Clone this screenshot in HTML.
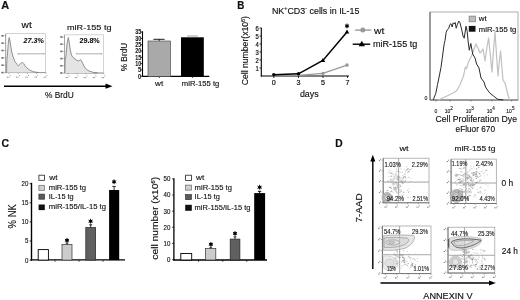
<!DOCTYPE html><html><head><meta charset="utf-8"><style>html,body{margin:0;padding:0;background:#fff;width:520px;height:300px;overflow:hidden}svg{display:block;filter:grayscale(1)}text{font-family:"Liberation Sans",sans-serif;fill:#111}</style></head><body>
<svg width="520" height="300" viewBox="0 0 520 300">
<rect width="520" height="300" fill="#fff"/>
<text x="1.2" y="9.2" font-size="10.5" textLength="7.9" lengthAdjust="spacingAndGlyphs" font-weight="bold" stroke="#111" stroke-width="0.2">A</text>
<text x="21.6" y="28.1" font-size="8.2" textLength="10.1" lengthAdjust="spacingAndGlyphs" stroke="#111" stroke-width="0.14">wt</text>
<text x="67" y="29.5" font-size="8" textLength="44.5" lengthAdjust="spacingAndGlyphs" stroke="#111" stroke-width="0.14">miR-155 tg</text>
<rect x="5.7" y="33.6" width="39.8" height="38.99999999999999" fill="none" stroke="#c8c8c8" stroke-width="0.8"/>
<line x1="5.7" y1="33.6" x2="5.7" y2="72.6" stroke="#9a9a9a" stroke-width="0.8"/>
<line x1="5.7" y1="72.6" x2="45.5" y2="72.6" stroke="#888" stroke-width="0.8"/>
<line x1="4.4" y1="35.800000000000004" x2="5.7" y2="35.800000000000004" stroke="#666" stroke-width="0.6"/>
<rect x="1.4" y="35.0" width="2.2" height="1.6" fill="#6a6a6a"/>
<line x1="4.4" y1="43.160000000000004" x2="5.7" y2="43.160000000000004" stroke="#666" stroke-width="0.6"/>
<rect x="1.4" y="42.4" width="2.2" height="1.6" fill="#6a6a6a"/>
<line x1="4.4" y1="50.519999999999996" x2="5.7" y2="50.519999999999996" stroke="#666" stroke-width="0.6"/>
<rect x="1.4" y="49.7" width="2.2" height="1.6" fill="#6a6a6a"/>
<line x1="4.4" y1="57.879999999999995" x2="5.7" y2="57.879999999999995" stroke="#666" stroke-width="0.6"/>
<rect x="1.4" y="57.1" width="2.2" height="1.6" fill="#6a6a6a"/>
<line x1="4.4" y1="65.24" x2="5.7" y2="65.24" stroke="#666" stroke-width="0.6"/>
<rect x="1.4" y="64.4" width="2.2" height="1.6" fill="#6a6a6a"/>
<line x1="4.4" y1="72.6" x2="5.7" y2="72.6" stroke="#666" stroke-width="0.6"/>
<rect x="1.4" y="71.8" width="2.2" height="1.6" fill="#6a6a6a"/>
<line x1="9.1" y1="72.6" x2="9.1" y2="73.89999999999999" stroke="#777" stroke-width="0.6"/>
<path d="M6.9,77.2 l1.2,0 M8.5,77.2 l0.9,0 M9.7,75.6 l0.8,0" stroke="#8a8a8a" stroke-width="1" fill="none"/>
<line x1="18.299999999999997" y1="72.6" x2="18.299999999999997" y2="73.89999999999999" stroke="#777" stroke-width="0.6"/>
<path d="M16.1,77.2 l1.2,0 M17.7,77.2 l0.9,0 M18.9,75.6 l0.8,0" stroke="#8a8a8a" stroke-width="1" fill="none"/>
<line x1="27.5" y1="72.6" x2="27.5" y2="73.89999999999999" stroke="#777" stroke-width="0.6"/>
<path d="M25.3,77.2 l1.2,0 M26.9,77.2 l0.9,0 M28.1,75.6 l0.8,0" stroke="#8a8a8a" stroke-width="1" fill="none"/>
<line x1="36.699999999999996" y1="72.6" x2="36.699999999999996" y2="73.89999999999999" stroke="#777" stroke-width="0.6"/>
<path d="M34.5,77.2 l1.2,0 M36.1,77.2 l0.9,0 M37.3,75.6 l0.8,0" stroke="#8a8a8a" stroke-width="1" fill="none"/>
<line x1="45.9" y1="72.6" x2="45.9" y2="73.89999999999999" stroke="#777" stroke-width="0.6"/>
<path d="M43.7,77.2 l1.2,0 M45.3,77.2 l0.9,0 M46.5,75.6 l0.8,0" stroke="#8a8a8a" stroke-width="1" fill="none"/>
<path d="M6.6,72.6 L6.6,72.5 6.8,61 7.6,52 8.4,42 9.2,37.5 10.2,42 11.7,51.7 13.2,57 15,61.7 16.8,64 18.3,65.8 20.3,64.2 21.5,62.8 22.5,62.3 23.7,63.5 25,65.8 28.3,69.2 30.5,70.5 33.3,71.7 38.3,72.5 L38.3,72.6 Z" fill="#e4e4e4" stroke="none"/>
<polyline points="6.6,72.5 6.8,61 7.6,52 8.4,42 9.2,37.5 10.2,42 11.7,51.7 13.2,57 15,61.7 16.8,64 18.3,65.8 20.3,64.2 21.5,62.8 22.5,62.3 23.7,63.5 25,65.8 28.3,69.2 30.5,70.5 33.3,71.7 38.3,72.5" fill="none" stroke="#777" stroke-width="0.8" stroke-linejoin="round"/>
<line x1="18" y1="53.8" x2="44.2" y2="53.8" stroke="#999" stroke-width="0.8"/>
<line x1="18" y1="52.8" x2="18" y2="54.8" stroke="#999" stroke-width="0.6"/>
<line x1="44.2" y1="52.8" x2="44.2" y2="54.8" stroke="#999" stroke-width="0.6"/>
<text x="23.6" y="42.7" font-size="7.9" textLength="20.3" lengthAdjust="spacingAndGlyphs" font-weight="bold" font-style="italic" stroke="#111" stroke-width="0.1">27.3%</text>
<rect x="64.6" y="34.8" width="38.80000000000001" height="38.2" fill="none" stroke="#c8c8c8" stroke-width="0.8"/>
<line x1="64.6" y1="34.8" x2="64.6" y2="73" stroke="#9a9a9a" stroke-width="0.8"/>
<line x1="64.6" y1="73" x2="103.4" y2="73" stroke="#888" stroke-width="0.8"/>
<line x1="63.3" y1="37.0" x2="64.6" y2="37.0" stroke="#666" stroke-width="0.6"/>
<rect x="60.3" y="36.2" width="2.2" height="1.6" fill="#6a6a6a"/>
<line x1="63.3" y1="44.2" x2="64.6" y2="44.2" stroke="#666" stroke-width="0.6"/>
<rect x="60.3" y="43.4" width="2.2" height="1.6" fill="#6a6a6a"/>
<line x1="63.3" y1="51.4" x2="64.6" y2="51.4" stroke="#666" stroke-width="0.6"/>
<rect x="60.3" y="50.6" width="2.2" height="1.6" fill="#6a6a6a"/>
<line x1="63.3" y1="58.6" x2="64.6" y2="58.6" stroke="#666" stroke-width="0.6"/>
<rect x="60.3" y="57.8" width="2.2" height="1.6" fill="#6a6a6a"/>
<line x1="63.3" y1="65.8" x2="64.6" y2="65.8" stroke="#666" stroke-width="0.6"/>
<rect x="60.3" y="65.0" width="2.2" height="1.6" fill="#6a6a6a"/>
<line x1="63.3" y1="73.0" x2="64.6" y2="73.0" stroke="#666" stroke-width="0.6"/>
<rect x="60.3" y="72.2" width="2.2" height="1.6" fill="#6a6a6a"/>
<line x1="68.0" y1="73" x2="68.0" y2="74.3" stroke="#777" stroke-width="0.6"/>
<path d="M65.8,77.6 l1.2,0 M67.4,77.6 l0.9,0 M68.6,76.0 l0.8,0" stroke="#8a8a8a" stroke-width="1" fill="none"/>
<line x1="76.95" y1="73" x2="76.95" y2="74.3" stroke="#777" stroke-width="0.6"/>
<path d="M74.8,77.6 l1.2,0 M76.4,77.6 l0.9,0 M77.5,76.0 l0.8,0" stroke="#8a8a8a" stroke-width="1" fill="none"/>
<line x1="85.9" y1="73" x2="85.9" y2="74.3" stroke="#777" stroke-width="0.6"/>
<path d="M83.7,77.6 l1.2,0 M85.3,77.6 l0.9,0 M86.5,76.0 l0.8,0" stroke="#8a8a8a" stroke-width="1" fill="none"/>
<line x1="94.85000000000001" y1="73" x2="94.85000000000001" y2="74.3" stroke="#777" stroke-width="0.6"/>
<path d="M92.7,77.6 l1.2,0 M94.3,77.6 l0.9,0 M95.5,76.0 l0.8,0" stroke="#8a8a8a" stroke-width="1" fill="none"/>
<line x1="103.80000000000001" y1="73" x2="103.80000000000001" y2="74.3" stroke="#777" stroke-width="0.6"/>
<path d="M101.6,77.6 l1.2,0 M103.2,77.6 l0.9,0 M104.4,76.0 l0.8,0" stroke="#8a8a8a" stroke-width="1" fill="none"/>
<path d="M64.8,73 L64.8,73 65.2,60 66,55 67,44 68.3,37.5 69.2,42 70.3,50 71.5,55 73,57.5 75,59 77,60.5 78.8,61 80.3,59.5 81.5,61 82.8,63.5 84.5,67 86.5,69.5 89,71 93,72.3 98,73 L98,73 Z" fill="#e4e4e4" stroke="none"/>
<polyline points="64.8,73 65.2,60 66,55 67,44 68.3,37.5 69.2,42 70.3,50 71.5,55 73,57.5 75,59 77,60.5 78.8,61 80.3,59.5 81.5,61 82.8,63.5 84.5,67 86.5,69.5 89,71 93,72.3 98,73" fill="none" stroke="#777" stroke-width="0.8" stroke-linejoin="round"/>
<line x1="76.7" y1="53.8" x2="101.7" y2="53.8" stroke="#999" stroke-width="0.8"/>
<line x1="76.7" y1="52.8" x2="76.7" y2="54.8" stroke="#999" stroke-width="0.6"/>
<line x1="101.7" y1="52.8" x2="101.7" y2="54.8" stroke="#999" stroke-width="0.6"/>
<text x="79.5" y="42.6" font-size="7.9" textLength="20.2" lengthAdjust="spacingAndGlyphs" font-weight="bold" stroke="#111" stroke-width="0.1">29.8%</text>
<line x1="4" y1="86.2" x2="107" y2="86.2" stroke="#000" stroke-width="1.5"/>
<path d="M112.5,86.2 L105.5,83.6 L105.5,88.8 Z" fill="#000"/>
<text x="45" y="98.1" font-size="9.3" textLength="28.8" lengthAdjust="spacingAndGlyphs" stroke="#111" stroke-width="0.14">% BrdU</text>
<text x="126.7" y="71.3" font-size="9" textLength="28.6" lengthAdjust="spacingAndGlyphs" stroke="#111" stroke-width="0.14" transform="rotate(-90 126.7 71.3)">% BrdU</text>
<line x1="142.5" y1="31.2" x2="142.5" y2="76.9" stroke="#000" stroke-width="1.1"/>
<line x1="142" y1="76.4" x2="209.3" y2="76.4" stroke="#000" stroke-width="1.1"/>
<line x1="140.8" y1="76.2" x2="142.5" y2="76.2" stroke="#000" stroke-width="0.8"/>
<text x="141.2" y="78.5" font-size="6.8" textLength="3.2" lengthAdjust="spacingAndGlyphs" text-anchor="end" font-weight="bold" stroke="#111" stroke-width="0.05">0</text>
<line x1="140.8" y1="69.9" x2="142.5" y2="69.9" stroke="#000" stroke-width="0.8"/>
<text x="141.2" y="72.2" font-size="6.8" textLength="3.2" lengthAdjust="spacingAndGlyphs" text-anchor="end" font-weight="bold" stroke="#111" stroke-width="0.05">5</text>
<line x1="140.8" y1="63.6" x2="142.5" y2="63.6" stroke="#000" stroke-width="0.8"/>
<text x="141.2" y="65.9" font-size="6.8" textLength="6.0" lengthAdjust="spacingAndGlyphs" text-anchor="end" font-weight="bold" stroke="#111" stroke-width="0.05">10</text>
<line x1="140.8" y1="57.300000000000004" x2="142.5" y2="57.300000000000004" stroke="#000" stroke-width="0.8"/>
<text x="141.2" y="59.6" font-size="6.8" textLength="6.0" lengthAdjust="spacingAndGlyphs" text-anchor="end" font-weight="bold" stroke="#111" stroke-width="0.05">15</text>
<line x1="140.8" y1="51.0" x2="142.5" y2="51.0" stroke="#000" stroke-width="0.8"/>
<text x="141.2" y="53.3" font-size="6.8" textLength="6.0" lengthAdjust="spacingAndGlyphs" text-anchor="end" font-weight="bold" stroke="#111" stroke-width="0.05">20</text>
<line x1="140.8" y1="44.7" x2="142.5" y2="44.7" stroke="#000" stroke-width="0.8"/>
<text x="141.2" y="47.0" font-size="6.8" textLength="6.0" lengthAdjust="spacingAndGlyphs" text-anchor="end" font-weight="bold" stroke="#111" stroke-width="0.05">25</text>
<line x1="140.8" y1="38.400000000000006" x2="142.5" y2="38.400000000000006" stroke="#000" stroke-width="0.8"/>
<text x="141.2" y="40.7" font-size="6.8" textLength="6.0" lengthAdjust="spacingAndGlyphs" text-anchor="end" font-weight="bold" stroke="#111" stroke-width="0.05">30</text>
<line x1="140.8" y1="32.1" x2="142.5" y2="32.1" stroke="#000" stroke-width="0.8"/>
<text x="141.2" y="34.4" font-size="6.8" textLength="6.0" lengthAdjust="spacingAndGlyphs" text-anchor="end" font-weight="bold" stroke="#111" stroke-width="0.05">35</text>
<line x1="159.4" y1="76.4" x2="159.4" y2="78" stroke="#000" stroke-width="0.7"/>
<line x1="192.4" y1="76.4" x2="192.4" y2="78" stroke="#000" stroke-width="0.7"/>
<rect x="148" y="41" width="22.6" height="35.4" fill="#a9a9a9" stroke="#555" stroke-width="0.7"/>
<line x1="159.2" y1="41" x2="159.2" y2="39.3" stroke="#000" stroke-width="0.8"/>
<line x1="153.4" y1="39.3" x2="164.6" y2="39.3" stroke="#000" stroke-width="0.9"/>
<rect x="181" y="37.3" width="22.8" height="39.1" fill="#000"/>
<line x1="187" y1="36" x2="198" y2="36" stroke="#999" stroke-width="0.9"/>
<text x="155.1" y="86.1" font-size="7.6" textLength="8.1" lengthAdjust="spacingAndGlyphs" stroke="#111" stroke-width="0.14">wt</text>
<text x="181.8" y="86.3" font-size="7.4" textLength="37.5" lengthAdjust="spacingAndGlyphs" stroke="#111" stroke-width="0.14">miR-155 tg</text>
<text x="237.2" y="9.3" font-size="10.8" textLength="7.1" lengthAdjust="spacingAndGlyphs" font-weight="bold" stroke="#111" stroke-width="0.2">B</text>
<text x="271.9" y="13.5" font-size="9" textLength="87.5" lengthAdjust="spacingAndGlyphs" stroke="#111" stroke-width="0.14">NK<tspan dy="-3.2" font-size="5.5">+</tspan><tspan dy="3.2">CD3</tspan><tspan dy="-3.2" font-size="5.5">-</tspan><tspan dy="3.2"> cells in IL-15</tspan></text>
<line x1="261.3" y1="27.8" x2="261.3" y2="76.5" stroke="#000" stroke-width="1.1"/>
<line x1="260.8" y1="76" x2="349" y2="76" stroke="#000" stroke-width="1.1"/>
<line x1="259.5" y1="68" x2="261.3" y2="68" stroke="#000" stroke-width="0.8"/>
<text x="258.7" y="70.5" font-size="7" textLength="3.3" lengthAdjust="spacingAndGlyphs" text-anchor="end" stroke="#111" stroke-width="0.2">1</text>
<line x1="259.5" y1="60" x2="261.3" y2="60" stroke="#000" stroke-width="0.8"/>
<text x="258.7" y="62.5" font-size="7" textLength="3.3" lengthAdjust="spacingAndGlyphs" text-anchor="end" stroke="#111" stroke-width="0.2">2</text>
<line x1="259.5" y1="52" x2="261.3" y2="52" stroke="#000" stroke-width="0.8"/>
<text x="258.7" y="54.5" font-size="7" textLength="3.3" lengthAdjust="spacingAndGlyphs" text-anchor="end" stroke="#111" stroke-width="0.2">3</text>
<line x1="259.5" y1="44" x2="261.3" y2="44" stroke="#000" stroke-width="0.8"/>
<text x="258.7" y="46.5" font-size="7" textLength="3.3" lengthAdjust="spacingAndGlyphs" text-anchor="end" stroke="#111" stroke-width="0.2">4</text>
<line x1="259.5" y1="36" x2="261.3" y2="36" stroke="#000" stroke-width="0.8"/>
<text x="258.7" y="38.5" font-size="7" textLength="3.3" lengthAdjust="spacingAndGlyphs" text-anchor="end" stroke="#111" stroke-width="0.2">5</text>
<line x1="259.5" y1="28" x2="261.3" y2="28" stroke="#000" stroke-width="0.8"/>
<text x="258.7" y="30.5" font-size="7" textLength="3.3" lengthAdjust="spacingAndGlyphs" text-anchor="end" stroke="#111" stroke-width="0.2">6</text>
<line x1="273.8" y1="76" x2="273.8" y2="78" stroke="#000" stroke-width="0.8"/>
<text x="273.8" y="84.6" font-size="7.2" text-anchor="middle" stroke="#111" stroke-width="0.2">0</text>
<line x1="298.5" y1="76" x2="298.5" y2="78" stroke="#000" stroke-width="0.8"/>
<text x="298.5" y="84.6" font-size="7.2" text-anchor="middle" stroke="#111" stroke-width="0.2">3</text>
<line x1="323" y1="76" x2="323" y2="78" stroke="#000" stroke-width="0.8"/>
<text x="323" y="84.6" font-size="7.2" text-anchor="middle" stroke="#111" stroke-width="0.2">5</text>
<line x1="347.5" y1="76" x2="347.5" y2="78" stroke="#000" stroke-width="0.8"/>
<text x="347.5" y="84.6" font-size="7.2" text-anchor="middle" stroke="#111" stroke-width="0.2">7</text>
<text x="299.9" y="96.6" font-size="8.6" textLength="18.8" lengthAdjust="spacingAndGlyphs" stroke="#111" stroke-width="0.14">days</text>
<text x="248.4" y="85.3" font-size="8.8" textLength="69.3" lengthAdjust="spacingAndGlyphs" stroke="#111" stroke-width="0.14" transform="rotate(-90 248.4 85.3)">Cell number(x10<tspan dy="-3" font-size="5.5">6</tspan><tspan dy="3">)</tspan></text>
<polyline points="273.8,75.5 298.5,75.4 322.9,73.4 347,65.1" fill="none" stroke="#999" stroke-width="1.3"/>
<circle cx="322.9" cy="73.4" r="1.7" fill="#999"/><circle cx="347" cy="65.1" r="1.8" fill="#999"/>
<polyline points="273.8,74.8 298.5,73.8 322.9,60.4 347,32" fill="none" stroke="#000" stroke-width="1.5"/>
<circle cx="273.8" cy="74.6" r="1.7" fill="#000"/><circle cx="298.5" cy="73.8" r="1.7" fill="#000"/>
<path d="M322.9,58 L325.2,62 L320.6,62 Z" fill="#000"/><path d="M347,29.6 L349.3,33.6 L344.7,33.6 Z" fill="#000"/>
<path d="M347,23.9 L347,27.9 M345.25,24.9 L348.75,26.9 M345.25,26.9 L348.75,24.9" stroke="#000" stroke-width="0.9" stroke-linecap="round"/><circle cx="347" cy="25.9" r="1.5" fill="#000"/>
<line x1="355.1" y1="30.1" x2="371.3" y2="30.1" stroke="#999" stroke-width="1.4"/>
<circle cx="362.8" cy="30.1" r="2.5" fill="#999"/>
<text x="374" y="33.5" font-size="8.6" textLength="10.3" lengthAdjust="spacingAndGlyphs" stroke="#111" stroke-width="0.14">wt</text>
<line x1="352.7" y1="44.2" x2="370.2" y2="44.2" stroke="#000" stroke-width="1.4"/>
<path d="M361.8,40.8 L365,46.2 L358.6,46.2 Z" fill="#000"/>
<text x="372.9" y="46.6" font-size="8.8" textLength="44.4" lengthAdjust="spacingAndGlyphs" stroke="#111" stroke-width="0.14">miR-155 tg</text>
<rect x="430" y="12" width="88" height="88" fill="none" stroke="#999" stroke-width="0.8"/>
<line x1="430" y1="12" x2="430" y2="100" stroke="#555" stroke-width="0.9"/>
<line x1="430" y1="100" x2="518" y2="100" stroke="#555" stroke-width="0.9"/>
<line x1="436" y1="100" x2="436" y2="101.6" stroke="#555" stroke-width="0.6"/>
<line x1="450" y1="100" x2="450" y2="101.6" stroke="#555" stroke-width="0.6"/>
<line x1="471" y1="100" x2="471" y2="101.6" stroke="#555" stroke-width="0.6"/>
<line x1="492" y1="100" x2="492" y2="101.6" stroke="#555" stroke-width="0.6"/>
<line x1="511.6" y1="100" x2="511.6" y2="101.6" stroke="#555" stroke-width="0.6"/>
<polyline points="438.4,100 445.3,96.8 450,94.5 454,92.5 456.6,90.7 460,84.7 463.5,76 465.3,67.3 466.5,68.5 468.5,62 472,55 474,49 476,44 478,48 480,53 483,49 485,61 486.8,48 488.6,38 490.3,55 492,72 493.5,50 495,32 496.5,55 498,76 499.3,62 500.6,51 501.8,66 503,80 505,83 507.5,93 509.5,100" fill="none" stroke="#c2c2c2" stroke-width="1.25" stroke-linejoin="round"/>
<polyline points="433.2,100 435.8,93.3 437.5,84.7 439.3,76 441,67.3 442.2,58.7 443.6,48 444.3,43.5 445,40.5 446.2,32.2 447.2,30 448.7,28.5 449.8,24.7 451,23.7 452.2,27 453.2,22.8 454.3,24 455.2,22.5 456.2,28.2 457.3,24.7 458.8,21 460,22.8 461.8,30 463,36 464.2,38.2 466,26.2 467.2,31.5 468.2,42 469.3,50.2 470.8,43.5 472.7,54 475,58 476.6,64 479,68 481,78 484,82 485.5,87 487.5,90 490,93.3 493.3,95.8 497.5,99.2 503.3,100" fill="none" stroke="#2a2a2a" stroke-width="1" stroke-linejoin="round"/>
<rect x="469.1" y="16.1" width="6.3" height="5.7" fill="#bdbdbd" stroke="#777" stroke-width="0.7"/>
<rect x="468.8" y="25.9" width="6.7" height="5.8" fill="#111"/>
<text x="478.8" y="21" font-size="7.6" textLength="7.9" lengthAdjust="spacingAndGlyphs" stroke="#111" stroke-width="0.14">wt</text>
<text x="478.8" y="31.6" font-size="7.6" textLength="37.5" lengthAdjust="spacingAndGlyphs" stroke="#111" stroke-width="0.14">miR-155 tg</text>
<text x="424.4" y="100" font-size="5.2" stroke="#111" stroke-width="0.1">0</text>
<text x="436" y="113" font-size="5" text-anchor="middle" stroke="#111" stroke-width="0.1">0</text>
<text x="448.8" y="113" font-size="5" text-anchor="middle" stroke="#111" stroke-width="0.1">10<tspan dy="-2.6" font-size="4.6">2</tspan></text>
<text x="469.8" y="113" font-size="5" text-anchor="middle" stroke="#111" stroke-width="0.1">10<tspan dy="-2.6" font-size="4.6">3</tspan></text>
<text x="490.8" y="113" font-size="5" text-anchor="middle" stroke="#111" stroke-width="0.1">10<tspan dy="-2.6" font-size="4.6">4</tspan></text>
<text x="510.40000000000003" y="113" font-size="5" text-anchor="middle" stroke="#111" stroke-width="0.1">10<tspan dy="-2.6" font-size="4.6">5</tspan></text>
<text x="435.4" y="122.3" font-size="9" textLength="81.6" lengthAdjust="spacingAndGlyphs" stroke="#111" stroke-width="0.14">Cell Proliferation Dye</text>
<text x="455.6" y="132" font-size="9" textLength="39.4" lengthAdjust="spacingAndGlyphs" stroke="#111" stroke-width="0.14">eFluor 670</text>
<text x="1.6" y="146.8" font-size="10.5" textLength="7.6" lengthAdjust="spacingAndGlyphs" font-weight="bold" stroke="#111" stroke-width="0.2">C</text>
<line x1="31.5" y1="182.8" x2="31.5" y2="260.7" stroke="#000" stroke-width="1.4"/>
<line x1="30.8" y1="259.8" x2="125" y2="259.8" stroke="#000" stroke-width="1.3"/>
<line x1="29.6" y1="260.1" x2="31.5" y2="260.1" stroke="#000" stroke-width="0.8"/>
<text x="28.3" y="262.5" font-size="7.2" textLength="3.4" lengthAdjust="spacingAndGlyphs" text-anchor="end" stroke="#111" stroke-width="0.15">0</text>
<line x1="29.6" y1="241.00000000000003" x2="31.5" y2="241.00000000000003" stroke="#000" stroke-width="0.8"/>
<text x="28.3" y="243.40000000000003" font-size="7.2" textLength="3.4" lengthAdjust="spacingAndGlyphs" text-anchor="end" stroke="#111" stroke-width="0.15">5</text>
<line x1="29.6" y1="221.90000000000003" x2="31.5" y2="221.90000000000003" stroke="#000" stroke-width="0.8"/>
<text x="28.3" y="224.30000000000004" font-size="7.2" textLength="6.8" lengthAdjust="spacingAndGlyphs" text-anchor="end" stroke="#111" stroke-width="0.15">10</text>
<line x1="29.6" y1="202.8" x2="31.5" y2="202.8" stroke="#000" stroke-width="0.8"/>
<text x="28.3" y="205.20000000000002" font-size="7.2" textLength="6.8" lengthAdjust="spacingAndGlyphs" text-anchor="end" stroke="#111" stroke-width="0.15">15</text>
<line x1="29.6" y1="183.70000000000002" x2="31.5" y2="183.70000000000002" stroke="#000" stroke-width="0.8"/>
<text x="28.3" y="186.10000000000002" font-size="7.2" textLength="6.8" lengthAdjust="spacingAndGlyphs" text-anchor="end" stroke="#111" stroke-width="0.15">20</text>
<line x1="55" y1="260.1" x2="55" y2="261.8" stroke="#000" stroke-width="0.7"/>
<line x1="79" y1="260.1" x2="79" y2="261.8" stroke="#000" stroke-width="0.7"/>
<line x1="103" y1="260.1" x2="103" y2="261.8" stroke="#000" stroke-width="0.7"/>
<text x="15.9" y="228.4" font-size="10.5" textLength="24.2" lengthAdjust="spacingAndGlyphs" stroke="#111" stroke-width="0.14" transform="rotate(-90 15.9 228.4)">% NK</text>
<rect x="38.2" y="249.6" width="10.2" height="10.5" fill="#fff" stroke="#000" stroke-width="0.9"/>
<rect x="62" y="244.5" width="10" height="15.6" fill="#cccccc" stroke="#333" stroke-width="0.7"/>
<rect x="85.8" y="227.5" width="9.8" height="32.6" fill="#606060" stroke="#222" stroke-width="0.7"/>
<rect x="109.1" y="190" width="10.1" height="70.1" fill="#000"/>
<line x1="67" y1="244.5" x2="67" y2="243" stroke="#000" stroke-width="0.8"/>
<line x1="65.6" y1="243" x2="68.4" y2="243" stroke="#000" stroke-width="0.8"/>
<line x1="90.7" y1="227.5" x2="90.7" y2="224.8" stroke="#000" stroke-width="0.8"/>
<line x1="89.2" y1="224.8" x2="92.2" y2="224.8" stroke="#000" stroke-width="0.9"/>
<line x1="114.1" y1="190" x2="114.1" y2="186.4" stroke="#000" stroke-width="0.8"/>
<line x1="112.3" y1="186.4" x2="115.9" y2="186.4" stroke="#000" stroke-width="0.8"/>
<path d="M67,238.3 L67,242.3 M65.25,239.3 L68.75,241.3 M65.25,241.3 L68.75,239.3" stroke="#000" stroke-width="0.9" stroke-linecap="round"/><circle cx="67" cy="240.3" r="1.5" fill="#000"/>
<path d="M90.6,219.2 L90.6,223.2 M88.85,220.2 L92.35,222.2 M88.85,222.2 L92.35,220.2" stroke="#000" stroke-width="0.9" stroke-linecap="round"/><circle cx="90.6" cy="221.2" r="1.5" fill="#000"/>
<path d="M114.1,179.8 L114.1,183.8 M112.35,180.8 L115.85,182.8 M112.35,182.8 L115.85,180.8" stroke="#000" stroke-width="0.9" stroke-linecap="round"/><circle cx="114.1" cy="181.8" r="1.5" fill="#000"/>
<rect x="38.9" y="175.2" width="5.6" height="5.1" fill="#fff" stroke="#222" stroke-width="0.8"/>
<rect x="38.9" y="185.3" width="5.6" height="5.0" fill="#d0d0d0" stroke="#666" stroke-width="0.7"/>
<rect x="38.9" y="194.1" width="5.6" height="5.1" fill="#5a5a5a" stroke="#333" stroke-width="0.7"/>
<rect x="38.6" y="204.5" width="6.2" height="5.6" fill="#111"/>
<text x="49.2" y="179.8" font-size="8" textLength="8.3" lengthAdjust="spacingAndGlyphs" stroke="#111" stroke-width="0.14">wt</text>
<text x="48.8" y="189.9" font-size="8" textLength="37.3" lengthAdjust="spacingAndGlyphs" stroke="#111" stroke-width="0.14">miR-155 tg</text>
<text x="48.8" y="198.8" font-size="8" textLength="24.8" lengthAdjust="spacingAndGlyphs" stroke="#111" stroke-width="0.14">IL-15 tg</text>
<text x="48.8" y="209.4" font-size="8" textLength="57.2" lengthAdjust="spacingAndGlyphs" stroke="#111" stroke-width="0.14">miR-155/IL-15 tg</text>
<line x1="173.9" y1="178.3" x2="173.9" y2="260.6" stroke="#000" stroke-width="1.3"/>
<line x1="173.3" y1="260" x2="267" y2="260" stroke="#000" stroke-width="1.3"/>
<line x1="172.2" y1="259.6" x2="173.9" y2="259.6" stroke="#000" stroke-width="0.8"/>
<text x="170.4" y="262.0" font-size="7.2" textLength="3.4" lengthAdjust="spacingAndGlyphs" text-anchor="end" stroke="#111" stroke-width="0.15">0</text>
<line x1="172.2" y1="243.45000000000002" x2="173.9" y2="243.45000000000002" stroke="#000" stroke-width="0.8"/>
<text x="170.4" y="245.85000000000002" font-size="7.2" textLength="6.8" lengthAdjust="spacingAndGlyphs" text-anchor="end" stroke="#111" stroke-width="0.15">10</text>
<line x1="172.2" y1="227.3" x2="173.9" y2="227.3" stroke="#000" stroke-width="0.8"/>
<text x="170.4" y="229.70000000000002" font-size="7.2" textLength="6.8" lengthAdjust="spacingAndGlyphs" text-anchor="end" stroke="#111" stroke-width="0.15">20</text>
<line x1="172.2" y1="211.15000000000003" x2="173.9" y2="211.15000000000003" stroke="#000" stroke-width="0.8"/>
<text x="170.4" y="213.55000000000004" font-size="7.2" textLength="6.8" lengthAdjust="spacingAndGlyphs" text-anchor="end" stroke="#111" stroke-width="0.15">30</text>
<line x1="172.2" y1="195.00000000000003" x2="173.9" y2="195.00000000000003" stroke="#000" stroke-width="0.8"/>
<text x="170.4" y="197.40000000000003" font-size="7.2" textLength="6.8" lengthAdjust="spacingAndGlyphs" text-anchor="end" stroke="#111" stroke-width="0.15">40</text>
<line x1="172.2" y1="178.85000000000002" x2="173.9" y2="178.85000000000002" stroke="#000" stroke-width="0.8"/>
<text x="170.4" y="181.25000000000003" font-size="7.2" textLength="6.8" lengthAdjust="spacingAndGlyphs" text-anchor="end" stroke="#111" stroke-width="0.15">50</text>
<line x1="198.5" y1="260" x2="198.5" y2="261.8" stroke="#000" stroke-width="0.7"/>
<line x1="222.8" y1="260" x2="222.8" y2="261.8" stroke="#000" stroke-width="0.7"/>
<line x1="246.8" y1="260" x2="246.8" y2="261.8" stroke="#000" stroke-width="0.7"/>
<text x="158.2" y="259.7" font-size="9" textLength="83" lengthAdjust="spacingAndGlyphs" stroke="#111" stroke-width="0.14" transform="rotate(-90 158.2 259.7)">cell number (x10<tspan dy="-3" font-size="5.5">6</tspan><tspan dy="3">)</tspan></text>
<rect x="180.8" y="253.5" width="10.9" height="6.5" fill="#fff" stroke="#000" stroke-width="0.9"/>
<rect x="205.6" y="248.5" width="10.2" height="11.5" fill="#cccccc" stroke="#333" stroke-width="0.7"/>
<rect x="230.2" y="239.1" width="9.7" height="20.9" fill="#606060" stroke="#222" stroke-width="0.7"/>
<rect x="254.2" y="193.1" width="10.9" height="66.9" fill="#000"/>
<line x1="210.8" y1="248.5" x2="210.8" y2="247.3" stroke="#000" stroke-width="0.8"/>
<line x1="209.5" y1="247.3" x2="212.1" y2="247.3" stroke="#000" stroke-width="0.8"/>
<line x1="235" y1="239.1" x2="235" y2="236.8" stroke="#000" stroke-width="0.8"/>
<line x1="233.6" y1="236.8" x2="236.4" y2="236.8" stroke="#000" stroke-width="0.9"/>
<line x1="259.6" y1="193.1" x2="259.6" y2="191.3" stroke="#000" stroke-width="0.9"/>
<line x1="257.9" y1="191.3" x2="261.3" y2="191.3" stroke="#000" stroke-width="1"/>
<path d="M210.9,242.3 L210.9,246.3 M209.15,243.3 L212.65,245.3 M209.15,245.3 L212.65,243.3" stroke="#000" stroke-width="0.9" stroke-linecap="round"/><circle cx="210.9" cy="244.3" r="1.5" fill="#000"/>
<path d="M235,231.4 L235,235.4 M233.25,232.4 L236.75,234.4 M233.25,234.4 L236.75,232.4" stroke="#000" stroke-width="0.9" stroke-linecap="round"/><circle cx="235" cy="233.4" r="1.5" fill="#000"/>
<path d="M259.6,185.2 L259.6,189.2 M257.85,186.2 L261.35,188.2 M257.85,188.2 L261.35,186.2" stroke="#000" stroke-width="0.9" stroke-linecap="round"/><circle cx="259.6" cy="187.2" r="1.5" fill="#000"/>
<rect x="185.6" y="175.2" width="5.8" height="5.3" fill="#fff" stroke="#222" stroke-width="0.8"/>
<rect x="185.6" y="185.1" width="5.8" height="5.0" fill="#d0d0d0" stroke="#666" stroke-width="0.7"/>
<rect x="185.6" y="194.6" width="5.8" height="5.0" fill="#5a5a5a" stroke="#333" stroke-width="0.7"/>
<rect x="185.2" y="204.8" width="6.6" height="6.0" fill="#111"/>
<text x="196" y="179.5" font-size="8" textLength="8.2" lengthAdjust="spacingAndGlyphs" stroke="#111" stroke-width="0.14">wt</text>
<text x="194.6" y="190.2" font-size="8.1" textLength="37.3" lengthAdjust="spacingAndGlyphs" stroke="#111" stroke-width="0.14">miR-155 tg</text>
<text x="194.6" y="199" font-size="8.1" textLength="25.3" lengthAdjust="spacingAndGlyphs" stroke="#111" stroke-width="0.14">IL-15 tg</text>
<text x="194.6" y="209.7" font-size="8.1" textLength="55.8" lengthAdjust="spacingAndGlyphs" stroke="#111" stroke-width="0.14">miR-155/IL-15 tg</text>
<text x="335.3" y="146.6" font-size="10.5" textLength="7.4" lengthAdjust="spacingAndGlyphs" font-weight="bold" stroke="#111" stroke-width="0.2">D</text>
<text x="399.5" y="151.1" font-size="7.4" textLength="9.1" lengthAdjust="spacingAndGlyphs" stroke="#111" stroke-width="0.14">wt</text>
<text x="454.5" y="151.1" font-size="7.3" textLength="40.8" lengthAdjust="spacingAndGlyphs" stroke="#111" stroke-width="0.14">miR-155 tg</text>
<line x1="372.8" y1="269" x2="372.8" y2="160" stroke="#000" stroke-width="1.4"/>
<path d="M372.8,154.8 L370.3,161.5 L375.3,161.5 Z" fill="#000"/>
<line x1="380.5" y1="283" x2="490" y2="283" stroke="#000" stroke-width="1.4"/>
<path d="M495.8,283 L489,280.4 L489,285.6 Z" fill="#000"/>
<text x="362.3" y="222.5" font-size="8.8" textLength="29" lengthAdjust="spacingAndGlyphs" stroke="#111" stroke-width="0.14" transform="rotate(-90 362.3 222.5)">7-AAD</text>
<text x="423.3" y="298.8" font-size="8.3" textLength="49.2" lengthAdjust="spacingAndGlyphs" stroke="#111" stroke-width="0.14">ANNEXIN V</text>
<text x="501.5" y="186.3" font-size="8.8" textLength="11.7" lengthAdjust="spacingAndGlyphs" stroke="#111" stroke-width="0.14">0 h</text>
<text x="501.8" y="253.8" font-size="8.8" textLength="16.1" lengthAdjust="spacingAndGlyphs" stroke="#111" stroke-width="0.14">24 h</text>
<rect x="383.2" y="158.2" width="45.80000000000001" height="44.60000000000002" fill="none" stroke="#999" stroke-width="0.7"/>
<line x1="383.2" y1="158.2" x2="383.2" y2="202.8" stroke="#666" stroke-width="0.8"/>
<line x1="383.2" y1="202.8" x2="429" y2="202.8" stroke="#666" stroke-width="0.8"/>
<line x1="398.6" y1="158.2" x2="398.6" y2="202.8" stroke="#aaa" stroke-width="0.7"/>
<line x1="383.2" y1="182.1" x2="429" y2="182.1" stroke="#aaa" stroke-width="0.7"/>
<line x1="381.7" y1="160.2" x2="383.2" y2="160.2" stroke="#777" stroke-width="0.6"/>
<path d="M378.9,160.6 l1.2,0 M380.2,159.3 l0.8,0" stroke="#777" stroke-width="1" fill="none"/>
<line x1="381.7" y1="170.85" x2="383.2" y2="170.85" stroke="#777" stroke-width="0.6"/>
<path d="M378.9,171.2 l1.2,0 M380.2,169.9 l0.8,0" stroke="#777" stroke-width="1" fill="none"/>
<line x1="381.7" y1="181.5" x2="383.2" y2="181.5" stroke="#777" stroke-width="0.6"/>
<path d="M378.9,181.9 l1.2,0 M380.2,180.6 l0.8,0" stroke="#777" stroke-width="1" fill="none"/>
<line x1="381.7" y1="192.15" x2="383.2" y2="192.15" stroke="#777" stroke-width="0.6"/>
<path d="M378.9,192.6 l1.2,0 M380.2,191.2 l0.8,0" stroke="#777" stroke-width="1" fill="none"/>
<line x1="381.7" y1="202.8" x2="383.2" y2="202.8" stroke="#777" stroke-width="0.6"/>
<path d="M378.9,203.2 l1.2,0 M380.2,201.9 l0.8,0" stroke="#777" stroke-width="1" fill="none"/>
<line x1="386.2" y1="202.8" x2="386.2" y2="204.3" stroke="#777" stroke-width="0.6"/>
<path d="M384.4,207.1 l1.0,0 M385.7,207.1 l0.8,0 M386.7,205.8 l0.7,0" stroke="#6e6e6e" stroke-width="1" fill="none"/>
<line x1="396.9" y1="202.8" x2="396.9" y2="204.3" stroke="#777" stroke-width="0.6"/>
<path d="M395.1,207.1 l1.0,0 M396.4,207.1 l0.8,0 M397.4,205.8 l0.7,0" stroke="#6e6e6e" stroke-width="1" fill="none"/>
<line x1="407.6" y1="202.8" x2="407.6" y2="204.3" stroke="#777" stroke-width="0.6"/>
<path d="M405.8,207.1 l1.0,0 M407.1,207.1 l0.8,0 M408.1,205.8 l0.7,0" stroke="#6e6e6e" stroke-width="1" fill="none"/>
<line x1="418.3" y1="202.8" x2="418.3" y2="204.3" stroke="#777" stroke-width="0.6"/>
<path d="M416.5,207.1 l1.0,0 M417.8,207.1 l0.8,0 M418.8,205.8 l0.7,0" stroke="#6e6e6e" stroke-width="1" fill="none"/>
<line x1="429.0" y1="202.8" x2="429.0" y2="204.3" stroke="#777" stroke-width="0.6"/>
<path d="M427.2,207.1 l1.0,0 M428.5,207.1 l0.8,0 M429.5,205.8 l0.7,0" stroke="#6e6e6e" stroke-width="1" fill="none"/>
<rect x="451.1" y="159.1" width="45.19999999999999" height="44.400000000000006" fill="none" stroke="#999" stroke-width="0.7"/>
<line x1="451.1" y1="159.1" x2="451.1" y2="203.5" stroke="#666" stroke-width="0.8"/>
<line x1="451.1" y1="203.5" x2="496.3" y2="203.5" stroke="#666" stroke-width="0.8"/>
<line x1="465.8" y1="159.1" x2="465.8" y2="203.5" stroke="#aaa" stroke-width="0.7"/>
<line x1="451.1" y1="183" x2="496.3" y2="183" stroke="#aaa" stroke-width="0.7"/>
<line x1="449.6" y1="161.1" x2="451.1" y2="161.1" stroke="#777" stroke-width="0.6"/>
<path d="M446.8,161.5 l1.2,0 M448.1,160.2 l0.8,0" stroke="#777" stroke-width="1" fill="none"/>
<line x1="449.6" y1="171.7" x2="451.1" y2="171.7" stroke="#777" stroke-width="0.6"/>
<path d="M446.8,172.1 l1.2,0 M448.1,170.8 l0.8,0" stroke="#777" stroke-width="1" fill="none"/>
<line x1="449.6" y1="182.3" x2="451.1" y2="182.3" stroke="#777" stroke-width="0.6"/>
<path d="M446.8,182.7 l1.2,0 M448.1,181.4 l0.8,0" stroke="#777" stroke-width="1" fill="none"/>
<line x1="449.6" y1="192.9" x2="451.1" y2="192.9" stroke="#777" stroke-width="0.6"/>
<path d="M446.8,193.3 l1.2,0 M448.1,192.0 l0.8,0" stroke="#777" stroke-width="1" fill="none"/>
<line x1="449.6" y1="203.5" x2="451.1" y2="203.5" stroke="#777" stroke-width="0.6"/>
<path d="M446.8,203.9 l1.2,0 M448.1,202.6 l0.8,0" stroke="#777" stroke-width="1" fill="none"/>
<line x1="454.1" y1="203.5" x2="454.1" y2="205.0" stroke="#777" stroke-width="0.6"/>
<path d="M452.3,207.8 l1.0,0 M453.6,207.8 l0.8,0 M454.6,206.5 l0.7,0" stroke="#6e6e6e" stroke-width="1" fill="none"/>
<line x1="464.65000000000003" y1="203.5" x2="464.65000000000003" y2="205.0" stroke="#777" stroke-width="0.6"/>
<path d="M462.9,207.8 l1.0,0 M464.2,207.8 l0.8,0 M465.2,206.5 l0.7,0" stroke="#6e6e6e" stroke-width="1" fill="none"/>
<line x1="475.20000000000005" y1="203.5" x2="475.20000000000005" y2="205.0" stroke="#777" stroke-width="0.6"/>
<path d="M473.4,207.8 l1.0,0 M474.7,207.8 l0.8,0 M475.7,206.5 l0.7,0" stroke="#6e6e6e" stroke-width="1" fill="none"/>
<line x1="485.75" y1="203.5" x2="485.75" y2="205.0" stroke="#777" stroke-width="0.6"/>
<path d="M483.9,207.8 l1.0,0 M485.2,207.8 l0.8,0 M486.2,206.5 l0.7,0" stroke="#6e6e6e" stroke-width="1" fill="none"/>
<line x1="496.3" y1="203.5" x2="496.3" y2="205.0" stroke="#777" stroke-width="0.6"/>
<path d="M494.5,207.8 l1.0,0 M495.8,207.8 l0.8,0 M496.8,206.5 l0.7,0" stroke="#6e6e6e" stroke-width="1" fill="none"/>
<rect x="382.4" y="226" width="48.60000000000002" height="47.60000000000002" fill="none" stroke="#999" stroke-width="0.7"/>
<line x1="382.4" y1="226" x2="382.4" y2="273.6" stroke="#666" stroke-width="0.8"/>
<line x1="382.4" y1="273.6" x2="431" y2="273.6" stroke="#666" stroke-width="0.8"/>
<line x1="399.6" y1="226" x2="399.6" y2="273.6" stroke="#aaa" stroke-width="0.7"/>
<line x1="382.4" y1="254.7" x2="431" y2="254.7" stroke="#aaa" stroke-width="0.7"/>
<line x1="380.9" y1="228.0" x2="382.4" y2="228.0" stroke="#777" stroke-width="0.6"/>
<path d="M378.1,228.4 l1.2,0 M379.4,227.1 l0.8,0" stroke="#777" stroke-width="1" fill="none"/>
<line x1="380.9" y1="239.4" x2="382.4" y2="239.4" stroke="#777" stroke-width="0.6"/>
<path d="M378.1,239.8 l1.2,0 M379.4,238.5 l0.8,0" stroke="#777" stroke-width="1" fill="none"/>
<line x1="380.9" y1="250.8" x2="382.4" y2="250.8" stroke="#777" stroke-width="0.6"/>
<path d="M378.1,251.2 l1.2,0 M379.4,249.9 l0.8,0" stroke="#777" stroke-width="1" fill="none"/>
<line x1="380.9" y1="262.20000000000005" x2="382.4" y2="262.20000000000005" stroke="#777" stroke-width="0.6"/>
<path d="M378.1,262.6 l1.2,0 M379.4,261.3 l0.8,0" stroke="#777" stroke-width="1" fill="none"/>
<line x1="380.9" y1="273.6" x2="382.4" y2="273.6" stroke="#777" stroke-width="0.6"/>
<path d="M378.1,274.0 l1.2,0 M379.4,272.7 l0.8,0" stroke="#777" stroke-width="1" fill="none"/>
<line x1="385.4" y1="273.6" x2="385.4" y2="275.1" stroke="#777" stroke-width="0.6"/>
<path d="M383.6,277.9 l1.0,0 M384.9,277.9 l0.8,0 M385.9,276.6 l0.7,0" stroke="#6e6e6e" stroke-width="1" fill="none"/>
<line x1="396.79999999999995" y1="273.6" x2="396.79999999999995" y2="275.1" stroke="#777" stroke-width="0.6"/>
<path d="M395.0,277.9 l1.0,0 M396.3,277.9 l0.8,0 M397.3,276.6 l0.7,0" stroke="#6e6e6e" stroke-width="1" fill="none"/>
<line x1="408.2" y1="273.6" x2="408.2" y2="275.1" stroke="#777" stroke-width="0.6"/>
<path d="M406.4,277.9 l1.0,0 M407.7,277.9 l0.8,0 M408.7,276.6 l0.7,0" stroke="#6e6e6e" stroke-width="1" fill="none"/>
<line x1="419.6" y1="273.6" x2="419.6" y2="275.1" stroke="#777" stroke-width="0.6"/>
<path d="M417.8,277.9 l1.0,0 M419.1,277.9 l0.8,0 M420.1,276.6 l0.7,0" stroke="#6e6e6e" stroke-width="1" fill="none"/>
<line x1="431.0" y1="273.6" x2="431.0" y2="275.1" stroke="#777" stroke-width="0.6"/>
<path d="M429.2,277.9 l1.0,0 M430.5,277.9 l0.8,0 M431.5,276.6 l0.7,0" stroke="#6e6e6e" stroke-width="1" fill="none"/>
<rect x="448" y="227.2" width="46.80000000000001" height="45.80000000000001" fill="none" stroke="#999" stroke-width="0.7"/>
<line x1="448" y1="227.2" x2="448" y2="273" stroke="#666" stroke-width="0.8"/>
<line x1="448" y1="273" x2="494.8" y2="273" stroke="#666" stroke-width="0.8"/>
<line x1="464.6" y1="227.2" x2="464.6" y2="273" stroke="#aaa" stroke-width="0.7"/>
<line x1="448" y1="255.3" x2="494.8" y2="255.3" stroke="#aaa" stroke-width="0.7"/>
<line x1="446.5" y1="229.2" x2="448" y2="229.2" stroke="#777" stroke-width="0.6"/>
<path d="M443.7,229.6 l1.2,0 M445.0,228.3 l0.8,0" stroke="#777" stroke-width="1" fill="none"/>
<line x1="446.5" y1="240.14999999999998" x2="448" y2="240.14999999999998" stroke="#777" stroke-width="0.6"/>
<path d="M443.7,240.5 l1.2,0 M445.0,239.2 l0.8,0" stroke="#777" stroke-width="1" fill="none"/>
<line x1="446.5" y1="251.1" x2="448" y2="251.1" stroke="#777" stroke-width="0.6"/>
<path d="M443.7,251.5 l1.2,0 M445.0,250.2 l0.8,0" stroke="#777" stroke-width="1" fill="none"/>
<line x1="446.5" y1="262.05" x2="448" y2="262.05" stroke="#777" stroke-width="0.6"/>
<path d="M443.7,262.4 l1.2,0 M445.0,261.2 l0.8,0" stroke="#777" stroke-width="1" fill="none"/>
<line x1="446.5" y1="273.0" x2="448" y2="273.0" stroke="#777" stroke-width="0.6"/>
<path d="M443.7,273.4 l1.2,0 M445.0,272.1 l0.8,0" stroke="#777" stroke-width="1" fill="none"/>
<line x1="451.0" y1="273" x2="451.0" y2="274.5" stroke="#777" stroke-width="0.6"/>
<path d="M449.2,277.3 l1.0,0 M450.5,277.3 l0.8,0 M451.5,276.0 l0.7,0" stroke="#6e6e6e" stroke-width="1" fill="none"/>
<line x1="461.95" y1="273" x2="461.95" y2="274.5" stroke="#777" stroke-width="0.6"/>
<path d="M460.1,277.3 l1.0,0 M461.4,277.3 l0.8,0 M462.4,276.0 l0.7,0" stroke="#6e6e6e" stroke-width="1" fill="none"/>
<line x1="472.9" y1="273" x2="472.9" y2="274.5" stroke="#777" stroke-width="0.6"/>
<path d="M471.1,277.3 l1.0,0 M472.4,277.3 l0.8,0 M473.4,276.0 l0.7,0" stroke="#6e6e6e" stroke-width="1" fill="none"/>
<line x1="483.85" y1="273" x2="483.85" y2="274.5" stroke="#777" stroke-width="0.6"/>
<path d="M482.1,277.3 l1.0,0 M483.4,277.3 l0.8,0 M484.4,276.0 l0.7,0" stroke="#6e6e6e" stroke-width="1" fill="none"/>
<line x1="494.8" y1="273" x2="494.8" y2="274.5" stroke="#777" stroke-width="0.6"/>
<path d="M493.0,277.3 l1.0,0 M494.3,277.3 l0.8,0 M495.3,276.0 l0.7,0" stroke="#6e6e6e" stroke-width="1" fill="none"/>
<ellipse cx="387" cy="197.5" rx="5.00" ry="5.00" fill="#d8d8d8" stroke="#7a7a7a" stroke-width="0.5" transform="rotate(0 387 197.5)"/>
<ellipse cx="387" cy="197.5" rx="3.83" ry="3.83" fill="none" stroke="#7a7a7a" stroke-width="0.5" transform="rotate(0 387 197.5)"/>
<ellipse cx="387" cy="197.5" rx="2.67" ry="2.67" fill="none" stroke="#7a7a7a" stroke-width="0.5" transform="rotate(0 387 197.5)"/>
<ellipse cx="396" cy="177" rx="2.5" ry="1.2" fill="none" stroke="#a0a0a0" stroke-width="0.5"/>
<ellipse cx="400" cy="179" rx="2.5" ry="1.3" fill="none" stroke="#a0a0a0" stroke-width="0.5"/>
<ellipse cx="394" cy="183" rx="2.2" ry="1.1" fill="none" stroke="#a0a0a0" stroke-width="0.5"/>
<ellipse cx="399" cy="186" rx="2" ry="1.2" fill="none" stroke="#a0a0a0" stroke-width="0.5"/>
<ellipse cx="403" cy="182" rx="2" ry="1.2" fill="none" stroke="#a0a0a0" stroke-width="0.5"/>
<ellipse cx="400" cy="191" rx="1.6" ry="1.4" fill="none" stroke="#a0a0a0" stroke-width="0.5"/>
<ellipse cx="395" cy="189" rx="2" ry="1" fill="none" stroke="#a0a0a0" stroke-width="0.5"/>
<ellipse cx="392" cy="180" rx="1.6" ry="1" fill="none" stroke="#a0a0a0" stroke-width="0.5"/>
<path d="M405,172 L408,168 L410,170 L412,168" fill="none" stroke="#999" stroke-width="0.5"/>
<path d="M395.2,173.9 q0.6,-1.3 1.0,0.5" fill="none" stroke="#8c8c8c" stroke-width="0.5"/>
<path d="M399.2,179.5 q-1.8,0.0 -2.8,-0.0" fill="none" stroke="#8c8c8c" stroke-width="0.5"/>
<path d="M389.7,181.3 q-1.7,-1.2 -2.8,0.5" fill="none" stroke="#8c8c8c" stroke-width="0.5"/>
<path d="M397.1,191.5 q-1.5,-0.8 -2.4,0.3" fill="none" stroke="#8c8c8c" stroke-width="0.5"/>
<path d="M400.9,194.6 q0.3,-0.3 0.5,0.1" fill="none" stroke="#8c8c8c" stroke-width="0.5"/>
<path d="M407.5,171.2 q1.4,-0.6 2.3,0.3" fill="none" stroke="#8c8c8c" stroke-width="0.5"/>
<path d="M391.7,173.1 q-0.8,0.9 -1.2,-0.4" fill="none" stroke="#8c8c8c" stroke-width="0.5"/>
<path d="M392.4,185.1 q0.6,-0.4 0.9,0.2" fill="none" stroke="#8c8c8c" stroke-width="0.5"/>
<path d="M399.4,171.6 q-1.8,-0.9 -2.8,0.4" fill="none" stroke="#8c8c8c" stroke-width="0.5"/>
<path d="M401.9,181.1 q-0.7,0.3 -1.2,-0.1" fill="none" stroke="#8c8c8c" stroke-width="0.5"/>
<path d="M397.6,177.8 q1.2,0.6 1.9,-0.2" fill="none" stroke="#8c8c8c" stroke-width="0.5"/>
<path d="M393.6,184.9 q0.1,1.1 0.2,-0.5" fill="none" stroke="#8c8c8c" stroke-width="0.5"/>
<path d="M402.9,177.5 q1.9,-1.1 3.1,0.5" fill="none" stroke="#8c8c8c" stroke-width="0.5"/>
<path d="M396.9,189.7 q-1.4,-0.0 -2.2,0.0" fill="none" stroke="#8c8c8c" stroke-width="0.5"/>
<path d="M389.7,187.4 q1.1,0.2 1.7,-0.1" fill="none" stroke="#8c8c8c" stroke-width="0.5"/>
<path d="M405.6,178.2 q0.8,0.3 1.2,-0.1" fill="none" stroke="#8c8c8c" stroke-width="0.5"/>
<path d="M400.0,181.9 q1.4,1.3 2.2,-0.5" fill="none" stroke="#8c8c8c" stroke-width="0.5"/>
<path d="M398.0,187.3 q-1.8,0.6 -2.8,-0.2" fill="none" stroke="#8c8c8c" stroke-width="0.5"/>
<path d="M401.3,195.8 q1.3,-0.6 2.1,0.3" fill="none" stroke="#8c8c8c" stroke-width="0.5"/>
<path d="M396.3,187.4 q-1.9,-0.1 -3.1,0.0" fill="none" stroke="#8c8c8c" stroke-width="0.5"/>
<path d="M392.2,173.0 q-1.8,0.8 -2.8,-0.3" fill="none" stroke="#8c8c8c" stroke-width="0.5"/>
<path d="M391.5,176.4 q-0.4,1.1 -0.7,-0.4" fill="none" stroke="#8c8c8c" stroke-width="0.5"/>
<path d="M390.5,181.7 q0.2,1.2 0.3,-0.5" fill="none" stroke="#8c8c8c" stroke-width="0.5"/>
<path d="M404.6,192.5 q-0.9,-0.3 -1.4,0.1" fill="none" stroke="#8c8c8c" stroke-width="0.5"/>
<path d="M395.8,193.0 q1.8,-1.0 2.9,0.4" fill="none" stroke="#8c8c8c" stroke-width="0.5"/>
<path d="M392.3,176.0 q-1.1,-0.0 -1.7,0.0" fill="none" stroke="#8c8c8c" stroke-width="0.5"/>
<path d="M400.2,176.8 q-2.0,-0.2 -3.2,0.1" fill="none" stroke="#8c8c8c" stroke-width="0.5"/>
<path d="M396.0,184.7 q1.8,0.6 2.9,-0.2" fill="none" stroke="#8c8c8c" stroke-width="0.5"/>
<circle cx="400.4" cy="186.5" r="0.45" fill="#999"/>
<circle cx="404.2" cy="169.6" r="0.45" fill="#999"/>
<circle cx="409.6" cy="191.4" r="0.45" fill="#999"/>
<circle cx="409.0" cy="191.9" r="0.45" fill="#999"/>
<circle cx="397.4" cy="180.0" r="0.45" fill="#999"/>
<circle cx="390.5" cy="187.0" r="0.45" fill="#999"/>
<circle cx="389.5" cy="170.0" r="0.45" fill="#999"/>
<circle cx="393.0" cy="172.9" r="0.45" fill="#999"/>
<circle cx="396.2" cy="169.6" r="0.45" fill="#999"/>
<circle cx="388.0" cy="172.5" r="0.45" fill="#999"/>
<circle cx="390.4" cy="178.9" r="0.45" fill="#999"/>
<circle cx="388.6" cy="194.2" r="0.45" fill="#999"/>
<circle cx="402.7" cy="172.5" r="0.45" fill="#999"/>
<circle cx="394.1" cy="178.4" r="0.45" fill="#999"/>
<circle cx="396.7" cy="171.7" r="0.45" fill="#999"/>
<circle cx="408.4" cy="197.8" r="0.45" fill="#999"/>
<circle cx="399.2" cy="182.5" r="0.45" fill="#999"/>
<circle cx="390.1" cy="171.1" r="0.45" fill="#999"/>
<circle cx="396.2" cy="175.9" r="0.45" fill="#999"/>
<circle cx="407.9" cy="172.8" r="0.45" fill="#999"/>
<circle cx="388.6" cy="196.5" r="0.45" fill="#999"/>
<circle cx="400.7" cy="172.4" r="0.45" fill="#999"/>
<circle cx="401.0" cy="168.8" r="0.45" fill="#999"/>
<circle cx="400.7" cy="197.4" r="0.45" fill="#999"/>
<circle cx="408.7" cy="188.9" r="0.45" fill="#999"/>
<circle cx="394.3" cy="179.0" r="0.45" fill="#999"/>
<circle cx="392.0" cy="191.2" r="0.45" fill="#999"/>
<circle cx="400.8" cy="191.4" r="0.45" fill="#999"/>
<circle cx="395.9" cy="174.7" r="0.45" fill="#999"/>
<circle cx="407.5" cy="197.5" r="0.45" fill="#999"/>
<circle cx="408.5" cy="192.2" r="0.45" fill="#999"/>
<circle cx="407.6" cy="190.2" r="0.45" fill="#999"/>
<circle cx="393.4" cy="183.5" r="0.45" fill="#999"/>
<circle cx="396.5" cy="168.9" r="0.45" fill="#999"/>
<circle cx="388.7" cy="176.4" r="0.45" fill="#999"/>
<circle cx="394.2" cy="188.8" r="0.45" fill="#999"/>
<circle cx="411.0" cy="181.4" r="0.45" fill="#999"/>
<circle cx="410.5" cy="197.6" r="0.45" fill="#999"/>
<circle cx="410.9" cy="178.9" r="0.45" fill="#999"/>
<circle cx="393.3" cy="174.8" r="0.45" fill="#999"/>
<circle cx="392.7" cy="174.1" r="0.45" fill="#999"/>
<circle cx="403.0" cy="195.0" r="0.45" fill="#999"/>
<circle cx="408.2" cy="182.4" r="0.45" fill="#999"/>
<circle cx="403.7" cy="192.0" r="0.45" fill="#999"/>
<circle cx="390.0" cy="187.8" r="0.45" fill="#999"/>
<ellipse cx="456.5" cy="196" rx="6.50" ry="6.50" fill="#cfcfcf" stroke="#7a7a7a" stroke-width="0.5" transform="rotate(0 456.5 196)"/>
<ellipse cx="456.5" cy="196" rx="4.98" ry="4.98" fill="none" stroke="#7a7a7a" stroke-width="0.5" transform="rotate(0 456.5 196)"/>
<ellipse cx="456.5" cy="196" rx="3.47" ry="3.47" fill="none" stroke="#7a7a7a" stroke-width="0.5" transform="rotate(0 456.5 196)"/>
<ellipse cx="462" cy="180" rx="2.5" ry="1.2" fill="none" stroke="#a0a0a0" stroke-width="0.5"/>
<ellipse cx="466" cy="176" rx="2.5" ry="1.3" fill="none" stroke="#a0a0a0" stroke-width="0.5"/>
<ellipse cx="470" cy="178" rx="2.2" ry="1.2" fill="none" stroke="#a0a0a0" stroke-width="0.5"/>
<ellipse cx="465" cy="185" rx="2.2" ry="1.1" fill="none" stroke="#a0a0a0" stroke-width="0.5"/>
<ellipse cx="472" cy="186" rx="2" ry="1.2" fill="none" stroke="#a0a0a0" stroke-width="0.5"/>
<ellipse cx="460" cy="190" rx="2" ry="1.2" fill="none" stroke="#a0a0a0" stroke-width="0.5"/>
<ellipse cx="475" cy="174" rx="2" ry="1" fill="none" stroke="#a0a0a0" stroke-width="0.5"/>
<ellipse cx="468" cy="192" rx="1.6" ry="1.1" fill="none" stroke="#a0a0a0" stroke-width="0.5"/>
<path d="M479.6,191.5 q1.0,-0.1 1.6,0.0" fill="none" stroke="#888" stroke-width="0.5"/>
<path d="M459.8,191.7 q-0.7,0.9 -1.1,-0.4" fill="none" stroke="#888" stroke-width="0.5"/>
<path d="M481.2,179.9 q-0.4,1.3 -0.6,-0.5" fill="none" stroke="#888" stroke-width="0.5"/>
<path d="M474.6,173.1 q-1.5,-1.0 -2.4,0.4" fill="none" stroke="#888" stroke-width="0.5"/>
<path d="M479.4,192.2 q-1.4,1.0 -2.3,-0.4" fill="none" stroke="#888" stroke-width="0.5"/>
<path d="M481.5,187.7 q-0.6,0.1 -1.0,-0.1" fill="none" stroke="#888" stroke-width="0.5"/>
<path d="M458.5,168.4 q1.9,0.4 3.0,-0.2" fill="none" stroke="#888" stroke-width="0.5"/>
<path d="M469.2,196.0 q-0.3,1.1 -0.4,-0.4" fill="none" stroke="#888" stroke-width="0.5"/>
<path d="M477.3,174.3 q-1.0,-0.6 -1.6,0.2" fill="none" stroke="#888" stroke-width="0.5"/>
<path d="M461.5,185.6 q-1.0,-0.2 -1.5,0.1" fill="none" stroke="#888" stroke-width="0.5"/>
<path d="M458.5,195.3 q-0.6,-0.1 -0.9,0.1" fill="none" stroke="#888" stroke-width="0.5"/>
<path d="M470.8,195.1 q-0.3,1.3 -0.5,-0.5" fill="none" stroke="#888" stroke-width="0.5"/>
<path d="M468.5,184.0 q0.1,-1.4 0.2,0.6" fill="none" stroke="#888" stroke-width="0.5"/>
<path d="M466.9,173.5 q-2.0,0.9 -3.2,-0.4" fill="none" stroke="#888" stroke-width="0.5"/>
<path d="M459.7,182.2 q0.9,0.2 1.4,-0.1" fill="none" stroke="#888" stroke-width="0.5"/>
<path d="M463.8,183.6 q0.2,0.9 0.4,-0.3" fill="none" stroke="#888" stroke-width="0.5"/>
<path d="M457.9,184.8 q-1.0,-0.7 -1.6,0.3" fill="none" stroke="#888" stroke-width="0.5"/>
<path d="M475.9,183.2 q0.2,0.8 0.4,-0.3" fill="none" stroke="#888" stroke-width="0.5"/>
<path d="M479.6,181.3 q0.5,0.0 0.7,-0.0" fill="none" stroke="#888" stroke-width="0.5"/>
<path d="M468.8,188.8 q-0.2,0.1 -0.3,-0.0" fill="none" stroke="#888" stroke-width="0.5"/>
<path d="M467.9,196.2 q0.8,1.1 1.3,-0.5" fill="none" stroke="#888" stroke-width="0.5"/>
<path d="M480.4,175.8 q0.2,1.3 0.4,-0.5" fill="none" stroke="#888" stroke-width="0.5"/>
<path d="M477.7,172.1 q-1.5,-0.2 -2.4,0.1" fill="none" stroke="#888" stroke-width="0.5"/>
<path d="M457.0,175.2 q-1.7,0.5 -2.7,-0.2" fill="none" stroke="#888" stroke-width="0.5"/>
<path d="M476.2,194.9 q-1.4,0.6 -2.2,-0.3" fill="none" stroke="#888" stroke-width="0.5"/>
<path d="M472.8,172.3 q1.5,1.4 2.5,-0.6" fill="none" stroke="#888" stroke-width="0.5"/>
<path d="M460.9,196.6 q-0.4,-0.0 -0.7,0.0" fill="none" stroke="#888" stroke-width="0.5"/>
<path d="M481.7,193.0 q-1.4,-0.2 -2.2,0.1" fill="none" stroke="#888" stroke-width="0.5"/>
<path d="M468.9,178.2 q-1.2,-0.5 -1.9,0.2" fill="none" stroke="#888" stroke-width="0.5"/>
<path d="M474.5,168.6 q0.2,-0.2 0.3,0.1" fill="none" stroke="#888" stroke-width="0.5"/>
<path d="M455.5,177.9 q0.5,0.0 0.8,-0.0" fill="none" stroke="#888" stroke-width="0.5"/>
<path d="M456.7,197.6 q1.2,1.4 1.8,-0.6" fill="none" stroke="#888" stroke-width="0.5"/>
<path d="M457.8,176.0 q-1.8,0.8 -2.9,-0.3" fill="none" stroke="#888" stroke-width="0.5"/>
<path d="M462.3,171.9 q-0.3,1.2 -0.5,-0.5" fill="none" stroke="#888" stroke-width="0.5"/>
<path d="M477.1,175.8 q-1.4,1.3 -2.2,-0.5" fill="none" stroke="#888" stroke-width="0.5"/>
<path d="M470.4,189.0 q-1.6,-1.3 -2.6,0.5" fill="none" stroke="#888" stroke-width="0.5"/>
<path d="M473.6,180.8 q-1.7,1.3 -2.7,-0.5" fill="none" stroke="#888" stroke-width="0.5"/>
<path d="M472.1,192.0 q-1.7,1.1 -2.7,-0.4" fill="none" stroke="#888" stroke-width="0.5"/>
<path d="M456.8,193.9 q-0.2,-0.5 -0.3,0.2" fill="none" stroke="#888" stroke-width="0.5"/>
<path d="M469.9,195.8 q-0.9,-1.1 -1.5,0.4" fill="none" stroke="#888" stroke-width="0.5"/>
<path d="M469.2,175.2 q-1.6,-1.0 -2.5,0.4" fill="none" stroke="#888" stroke-width="0.5"/>
<path d="M456.4,174.1 q-0.8,-0.6 -1.2,0.2" fill="none" stroke="#888" stroke-width="0.5"/>
<path d="M475.5,176.7 q0.0,-1.0 0.0,0.4" fill="none" stroke="#888" stroke-width="0.5"/>
<path d="M464.4,168.5 q-1.0,-1.5 -1.6,0.6" fill="none" stroke="#888" stroke-width="0.5"/>
<path d="M474.8,184.5 q-1.2,-0.1 -2.0,0.0" fill="none" stroke="#888" stroke-width="0.5"/>
<path d="M474.8,174.1 q1.3,-0.2 2.0,0.1" fill="none" stroke="#777" stroke-width="0.5"/>
<path d="M466.9,188.7 q-0.4,0.0 -0.7,-0.0" fill="none" stroke="#777" stroke-width="0.5"/>
<path d="M470.4,191.6 q-0.6,1.0 -1.0,-0.4" fill="none" stroke="#777" stroke-width="0.5"/>
<path d="M470.7,184.7 q-0.4,-0.5 -0.6,0.2" fill="none" stroke="#777" stroke-width="0.5"/>
<path d="M459.0,174.6 q-1.7,0.7 -2.7,-0.3" fill="none" stroke="#777" stroke-width="0.5"/>
<path d="M462.6,175.3 q-1.7,1.0 -2.7,-0.4" fill="none" stroke="#777" stroke-width="0.5"/>
<path d="M473.7,185.4 q-0.9,-0.8 -1.4,0.3" fill="none" stroke="#777" stroke-width="0.5"/>
<path d="M463.3,181.2 q-1.4,-0.2 -2.2,0.1" fill="none" stroke="#777" stroke-width="0.5"/>
<path d="M462.7,191.2 q1.9,0.1 3.0,-0.1" fill="none" stroke="#777" stroke-width="0.5"/>
<path d="M462.4,191.3 q-0.8,-0.4 -1.2,0.2" fill="none" stroke="#777" stroke-width="0.5"/>
<path d="M458.0,179.6 q-0.1,0.0 -0.2,-0.0" fill="none" stroke="#777" stroke-width="0.5"/>
<path d="M461.6,182.1 q-2.0,-0.7 -3.2,0.3" fill="none" stroke="#777" stroke-width="0.5"/>
<path d="M459.6,180.0 q-1.8,-1.4 -2.9,0.6" fill="none" stroke="#777" stroke-width="0.5"/>
<path d="M463.5,176.7 q0.3,0.1 0.5,-0.0" fill="none" stroke="#777" stroke-width="0.5"/>
<path d="M471.5,185.2 q0.9,1.1 1.4,-0.5" fill="none" stroke="#777" stroke-width="0.5"/>
<path d="M465.0,178.5 q1.9,-1.1 3.1,0.4" fill="none" stroke="#777" stroke-width="0.5"/>
<path d="M471.0,184.9 q-1.8,1.0 -2.9,-0.4" fill="none" stroke="#777" stroke-width="0.5"/>
<path d="M474.1,184.5 q0.9,0.9 1.5,-0.4" fill="none" stroke="#777" stroke-width="0.5"/>
<path d="M460.5,182.5 q0.0,1.0 0.0,-0.4" fill="none" stroke="#777" stroke-width="0.5"/>
<path d="M472.5,188.5 q0.3,1.2 0.5,-0.5" fill="none" stroke="#777" stroke-width="0.5"/>
<path d="M470.3,185.9 q-1.1,-1.4 -1.7,0.6" fill="none" stroke="#777" stroke-width="0.5"/>
<path d="M460.4,179.2 q-1.6,1.0 -2.5,-0.4" fill="none" stroke="#777" stroke-width="0.5"/>
<path d="M468.1,184.6 q0.5,0.5 0.8,-0.2" fill="none" stroke="#777" stroke-width="0.5"/>
<path d="M466.8,172.1 q1.2,0.7 1.9,-0.3" fill="none" stroke="#777" stroke-width="0.5"/>
<path d="M467.1,182.7 q0.6,-1.3 1.0,0.5" fill="none" stroke="#777" stroke-width="0.5"/>
<circle cx="479.3" cy="174.6" r="0.45" fill="#999"/>
<circle cx="457.5" cy="175.0" r="0.45" fill="#999"/>
<circle cx="479.1" cy="173.0" r="0.45" fill="#999"/>
<circle cx="479.4" cy="199.2" r="0.45" fill="#999"/>
<circle cx="471.3" cy="179.0" r="0.45" fill="#999"/>
<circle cx="470.8" cy="189.2" r="0.45" fill="#999"/>
<circle cx="480.3" cy="187.0" r="0.45" fill="#999"/>
<circle cx="476.2" cy="168.6" r="0.45" fill="#999"/>
<circle cx="459.9" cy="174.6" r="0.45" fill="#999"/>
<circle cx="479.5" cy="176.4" r="0.45" fill="#999"/>
<circle cx="473.7" cy="166.4" r="0.45" fill="#999"/>
<circle cx="457.0" cy="175.1" r="0.45" fill="#999"/>
<circle cx="477.2" cy="189.5" r="0.45" fill="#999"/>
<circle cx="477.3" cy="175.9" r="0.45" fill="#999"/>
<circle cx="472.0" cy="181.8" r="0.45" fill="#999"/>
<circle cx="470.4" cy="170.0" r="0.45" fill="#999"/>
<circle cx="484.5" cy="172.8" r="0.45" fill="#999"/>
<circle cx="487.3" cy="197.8" r="0.45" fill="#999"/>
<circle cx="455.6" cy="181.6" r="0.45" fill="#999"/>
<circle cx="482.1" cy="198.9" r="0.45" fill="#999"/>
<circle cx="469.8" cy="175.1" r="0.45" fill="#999"/>
<circle cx="461.9" cy="198.1" r="0.45" fill="#999"/>
<circle cx="462.0" cy="185.8" r="0.45" fill="#999"/>
<circle cx="459.7" cy="183.8" r="0.45" fill="#999"/>
<circle cx="486.4" cy="170.5" r="0.45" fill="#999"/>
<circle cx="482.1" cy="183.3" r="0.45" fill="#999"/>
<circle cx="484.3" cy="189.9" r="0.45" fill="#999"/>
<circle cx="462.6" cy="196.5" r="0.45" fill="#999"/>
<circle cx="471.0" cy="166.8" r="0.45" fill="#999"/>
<circle cx="455.1" cy="182.7" r="0.45" fill="#999"/>
<circle cx="469.9" cy="176.3" r="0.45" fill="#999"/>
<circle cx="459.6" cy="177.7" r="0.45" fill="#999"/>
<circle cx="465.4" cy="194.6" r="0.45" fill="#999"/>
<circle cx="455.1" cy="191.5" r="0.45" fill="#999"/>
<circle cx="482.7" cy="170.1" r="0.45" fill="#999"/>
<circle cx="485.6" cy="190.2" r="0.45" fill="#999"/>
<circle cx="484.8" cy="175.9" r="0.45" fill="#999"/>
<circle cx="467.3" cy="179.4" r="0.45" fill="#999"/>
<circle cx="488.0" cy="186.0" r="0.45" fill="#999"/>
<circle cx="466.9" cy="180.6" r="0.45" fill="#999"/>
<circle cx="464.1" cy="167.6" r="0.45" fill="#999"/>
<circle cx="458.4" cy="194.4" r="0.45" fill="#999"/>
<circle cx="464.4" cy="197.8" r="0.45" fill="#999"/>
<circle cx="463.2" cy="175.0" r="0.45" fill="#999"/>
<circle cx="471.9" cy="172.5" r="0.45" fill="#999"/>
<circle cx="467.3" cy="198.5" r="0.45" fill="#999"/>
<circle cx="484.2" cy="193.6" r="0.45" fill="#999"/>
<circle cx="475.8" cy="197.1" r="0.45" fill="#999"/>
<circle cx="486.0" cy="184.7" r="0.45" fill="#999"/>
<circle cx="478.7" cy="167.7" r="0.45" fill="#999"/>
<circle cx="479.2" cy="181.3" r="0.45" fill="#999"/>
<circle cx="479.8" cy="187.9" r="0.45" fill="#999"/>
<circle cx="464.4" cy="167.7" r="0.45" fill="#999"/>
<circle cx="485.6" cy="170.3" r="0.45" fill="#999"/>
<circle cx="470.6" cy="177.7" r="0.45" fill="#999"/>
<circle cx="464.8" cy="191.1" r="0.45" fill="#999"/>
<circle cx="487.2" cy="174.8" r="0.45" fill="#999"/>
<circle cx="476.6" cy="176.2" r="0.45" fill="#999"/>
<circle cx="473.4" cy="179.4" r="0.45" fill="#999"/>
<circle cx="460.5" cy="171.5" r="0.45" fill="#999"/>
<circle cx="461.9" cy="196.8" r="0.45" fill="#999"/>
<circle cx="471.4" cy="173.5" r="0.45" fill="#999"/>
<circle cx="484.9" cy="199.9" r="0.45" fill="#999"/>
<circle cx="469.8" cy="170.7" r="0.45" fill="#999"/>
<circle cx="461.3" cy="169.1" r="0.45" fill="#999"/>
<circle cx="466.3" cy="169.1" r="0.45" fill="#999"/>
<circle cx="462.9" cy="174.8" r="0.45" fill="#999"/>
<circle cx="473.8" cy="196.2" r="0.45" fill="#999"/>
<circle cx="479.7" cy="180.0" r="0.45" fill="#999"/>
<circle cx="468.7" cy="183.8" r="0.45" fill="#999"/>
<circle cx="467.4" cy="177.5" r="0.45" fill="#999"/>
<circle cx="457.0" cy="175.4" r="0.45" fill="#999"/>
<circle cx="486.9" cy="170.3" r="0.45" fill="#999"/>
<circle cx="471.6" cy="187.4" r="0.45" fill="#999"/>
<circle cx="483.5" cy="173.3" r="0.45" fill="#999"/>
<circle cx="463.9" cy="174.4" r="0.45" fill="#999"/>
<circle cx="468.2" cy="181.2" r="0.45" fill="#999"/>
<circle cx="486.5" cy="194.9" r="0.45" fill="#999"/>
<circle cx="483.8" cy="166.7" r="0.45" fill="#999"/>
<circle cx="456.1" cy="190.1" r="0.45" fill="#999"/>
<path d="M383,236 C392,234.5 404,235 410,235.3 C412.5,234.8 414.6,235.3 414.6,237.5 C414,242 410,246.5 404,248.5 C396,250.5 388,250.6 383,250 Z" fill="#e7e7e7" stroke="#999" stroke-width="0.7"/>
<path d="M384,238 C392,237 401,237.3 407.5,238.3 C409.5,239.5 409,242.5 404,245 C398,247.5 390,247.8 384,247.3 Z" fill="#dcdcdc" stroke="#8a8a8a" stroke-width="0.6"/>
<ellipse cx="392.5" cy="242.4" rx="7" ry="2.6" fill="#e2e2e2" stroke="#888" stroke-width="0.55"/>
<ellipse cx="391.5" cy="242.4" rx="3.4" ry="1.2" fill="#d0d0d0" stroke="#8a8a8a" stroke-width="0.5"/>
<path d="M383.5,256 C389,255.5 396,257 398,261 C399,266 395,270 390,270.5 C386,270.5 383.5,269 383.5,267 Z" fill="#ececec" stroke="#bdbdbd" stroke-width="0.5"/>
<ellipse cx="389.5" cy="263" rx="4.5" ry="4" fill="#e2e2e2" stroke="#b5b5b5" stroke-width="0.5"/>
<path d="M403.0,260.5 q1.7,-0.1 2.7,0.0" fill="none" stroke="#8c8c8c" stroke-width="0.5"/>
<path d="M404.2,261.0 q-1.3,0.0 -2.0,-0.0" fill="none" stroke="#8c8c8c" stroke-width="0.5"/>
<path d="M406.6,264.5 q-1.6,-0.6 -2.6,0.2" fill="none" stroke="#8c8c8c" stroke-width="0.5"/>
<path d="M395.8,264.8 q0.8,-1.4 1.2,0.5" fill="none" stroke="#8c8c8c" stroke-width="0.5"/>
<path d="M413.6,267.4 q0.6,0.3 1.0,-0.1" fill="none" stroke="#8c8c8c" stroke-width="0.5"/>
<path d="M397.1,251.3 q0.1,-1.3 0.2,0.5" fill="none" stroke="#8c8c8c" stroke-width="0.5"/>
<path d="M397.8,255.1 q-1.9,-0.1 -3.0,0.0" fill="none" stroke="#8c8c8c" stroke-width="0.5"/>
<path d="M402.8,265.3 q0.1,0.4 0.1,-0.2" fill="none" stroke="#8c8c8c" stroke-width="0.5"/>
<path d="M404.0,262.3 q-0.2,-0.7 -0.3,0.3" fill="none" stroke="#8c8c8c" stroke-width="0.5"/>
<path d="M414.0,267.9 q1.4,0.6 2.2,-0.2" fill="none" stroke="#8c8c8c" stroke-width="0.5"/>
<path d="M400.3,254.9 q-0.8,-1.3 -1.4,0.5" fill="none" stroke="#8c8c8c" stroke-width="0.5"/>
<path d="M409.3,257.8 q1.4,-0.3 2.2,0.1" fill="none" stroke="#8c8c8c" stroke-width="0.5"/>
<path d="M413.2,265.4 q-2.0,-0.9 -3.2,0.3" fill="none" stroke="#8c8c8c" stroke-width="0.5"/>
<path d="M412.2,259.0 q1.9,-0.3 3.1,0.1" fill="none" stroke="#8c8c8c" stroke-width="0.5"/>
<path d="M395.5,261.7 q1.1,-0.7 1.8,0.3" fill="none" stroke="#8c8c8c" stroke-width="0.5"/>
<path d="M395.7,256.7 q1.9,0.8 3.0,-0.3" fill="none" stroke="#8c8c8c" stroke-width="0.5"/>
<path d="M396.4,255.2 q-1.6,-1.3 -2.6,0.5" fill="none" stroke="#8c8c8c" stroke-width="0.5"/>
<path d="M409.9,254.0 q0.2,-0.2 0.4,0.1" fill="none" stroke="#8c8c8c" stroke-width="0.5"/>
<path d="M397.8,263.4 q-1.5,0.4 -2.4,-0.2" fill="none" stroke="#8c8c8c" stroke-width="0.5"/>
<path d="M396.3,258.2 q-1.1,-0.7 -1.8,0.3" fill="none" stroke="#8c8c8c" stroke-width="0.5"/>
<path d="M413.4,264.7 q-0.8,1.2 -1.3,-0.5" fill="none" stroke="#8c8c8c" stroke-width="0.5"/>
<path d="M398.2,257.7 q1.4,0.4 2.3,-0.2" fill="none" stroke="#8c8c8c" stroke-width="0.5"/>
<path d="M396.0,267.8 q-1.1,-0.7 -1.8,0.3" fill="none" stroke="#8c8c8c" stroke-width="0.5"/>
<path d="M409.5,256.6 q-0.8,-1.3 -1.3,0.5" fill="none" stroke="#8c8c8c" stroke-width="0.5"/>
<circle cx="395.3" cy="260.1" r="0.45" fill="#999"/>
<circle cx="399.1" cy="260.4" r="0.45" fill="#999"/>
<circle cx="402.3" cy="257.6" r="0.45" fill="#999"/>
<circle cx="417.0" cy="258.2" r="0.45" fill="#999"/>
<circle cx="407.4" cy="265.5" r="0.45" fill="#999"/>
<circle cx="397.6" cy="251.9" r="0.45" fill="#999"/>
<circle cx="415.7" cy="264.5" r="0.45" fill="#999"/>
<circle cx="399.2" cy="252.6" r="0.45" fill="#999"/>
<circle cx="411.5" cy="266.9" r="0.45" fill="#999"/>
<circle cx="397.9" cy="267.1" r="0.45" fill="#999"/>
<circle cx="415.1" cy="260.5" r="0.45" fill="#999"/>
<circle cx="403.5" cy="251.0" r="0.45" fill="#999"/>
<circle cx="394.0" cy="267.3" r="0.45" fill="#999"/>
<circle cx="399.0" cy="262.4" r="0.45" fill="#999"/>
<circle cx="399.4" cy="264.7" r="0.45" fill="#999"/>
<circle cx="407.9" cy="254.6" r="0.45" fill="#999"/>
<circle cx="397.4" cy="262.7" r="0.45" fill="#999"/>
<circle cx="394.7" cy="253.3" r="0.45" fill="#999"/>
<circle cx="407.0" cy="265.2" r="0.45" fill="#999"/>
<circle cx="408.4" cy="254.3" r="0.45" fill="#999"/>
<circle cx="415.9" cy="252.9" r="0.45" fill="#999"/>
<circle cx="393.4" cy="254.1" r="0.45" fill="#999"/>
<circle cx="404.1" cy="250.1" r="0.45" fill="#999"/>
<circle cx="397.4" cy="256.0" r="0.45" fill="#999"/>
<circle cx="407.3" cy="251.5" r="0.45" fill="#999"/>
<circle cx="402.1" cy="265.9" r="0.45" fill="#999"/>
<circle cx="417.5" cy="261.5" r="0.45" fill="#999"/>
<circle cx="410.3" cy="260.1" r="0.45" fill="#999"/>
<circle cx="396.5" cy="249.7" r="0.45" fill="#999"/>
<circle cx="393.4" cy="266.3" r="0.45" fill="#999"/>
<circle cx="410.5" cy="267.3" r="0.45" fill="#999"/>
<circle cx="393.5" cy="261.1" r="0.45" fill="#999"/>
<circle cx="405.1" cy="262.9" r="0.45" fill="#999"/>
<circle cx="401.0" cy="268.0" r="0.45" fill="#999"/>
<circle cx="394.9" cy="259.4" r="0.45" fill="#999"/>
<circle cx="411.4" cy="266.1" r="0.45" fill="#999"/>
<circle cx="411.4" cy="262.4" r="0.45" fill="#999"/>
<circle cx="412.8" cy="266.4" r="0.45" fill="#999"/>
<circle cx="401.8" cy="262.0" r="0.45" fill="#999"/>
<circle cx="415.5" cy="265.6" r="0.45" fill="#999"/>
<path d="M449,238.5 C456,235.6 470,235.8 481,238.6 C482.5,241 480.5,244.5 476,246.5 C470,249.4 460,250.6 452,250.2 C450,249.8 449,248.5 449,246.5 Z" fill="#e3e3e3" stroke="#a8a8a8" stroke-width="0.6"/>
<path d="M451.3,242 C455,238.8 466,238.3 474,239.3 C477,239.6 479.5,239.8 481.2,240.4 C478,243.2 472,246.6 463,247.9 C457,248.4 453,246.2 451.3,242 Z" fill="#d6d6d6" stroke="#5e5e5e" stroke-width="0.95"/>
<path d="M454,242.2 C458,240.4 466,240.2 474,240.9 C470,243.5 465,245.3 460,245.7 C456.5,245.7 454.5,244.1 454,242.2 Z" fill="#e4e4e4" stroke="#8a8a8a" stroke-width="0.6"/>
<ellipse cx="460" cy="242.9" rx="3.2" ry="1.1" fill="#ededed" stroke="#a0a0a0" stroke-width="0.4"/>
<line x1="448.6" y1="239" x2="448.6" y2="247.5" stroke="#555" stroke-width="1.2"/>
<ellipse cx="455.5" cy="262" rx="6.00" ry="6.20" fill="#e4e4e4" stroke="#999" stroke-width="0.5" transform="rotate(0 455.5 262)"/>
<ellipse cx="455.5" cy="262" rx="4.60" ry="4.75" fill="none" stroke="#999" stroke-width="0.5" transform="rotate(0 455.5 262)"/>
<ellipse cx="455.5" cy="262" rx="3.20" ry="3.31" fill="none" stroke="#999" stroke-width="0.5" transform="rotate(0 455.5 262)"/>
<path d="M471.0,265.6 q1.5,0.2 2.3,-0.1" fill="none" stroke="#999" stroke-width="0.5"/>
<path d="M476.0,257.0 q0.3,0.3 0.5,-0.1" fill="none" stroke="#999" stroke-width="0.5"/>
<path d="M462.9,262.4 q2.0,1.1 3.2,-0.5" fill="none" stroke="#999" stroke-width="0.5"/>
<path d="M478.5,257.2 q0.9,0.2 1.5,-0.1" fill="none" stroke="#999" stroke-width="0.5"/>
<path d="M471.6,266.6 q-1.7,0.8 -2.7,-0.3" fill="none" stroke="#999" stroke-width="0.5"/>
<path d="M461.7,261.6 q-0.1,-0.8 -0.1,0.3" fill="none" stroke="#999" stroke-width="0.5"/>
<path d="M477.8,259.4 q0.5,1.3 0.7,-0.5" fill="none" stroke="#999" stroke-width="0.5"/>
<path d="M467.1,249.2 q-0.8,0.5 -1.3,-0.2" fill="none" stroke="#999" stroke-width="0.5"/>
<path d="M465.9,252.6 q1.6,0.5 2.6,-0.2" fill="none" stroke="#999" stroke-width="0.5"/>
<path d="M471.6,267.7 q-0.7,0.5 -1.1,-0.2" fill="none" stroke="#999" stroke-width="0.5"/>
<path d="M465.8,258.0 q1.2,1.2 2.0,-0.5" fill="none" stroke="#999" stroke-width="0.5"/>
<path d="M482.1,257.1 q0.3,-0.6 0.5,0.2" fill="none" stroke="#999" stroke-width="0.5"/>
<path d="M464.3,259.4 q1.3,1.0 2.2,-0.4" fill="none" stroke="#999" stroke-width="0.5"/>
<path d="M478.1,269.0 q-0.9,-1.0 -1.4,0.4" fill="none" stroke="#999" stroke-width="0.5"/>
<path d="M471.8,254.8 q-1.1,-0.3 -1.8,0.1" fill="none" stroke="#999" stroke-width="0.5"/>
<path d="M476.0,259.4 q-0.7,1.0 -1.2,-0.4" fill="none" stroke="#999" stroke-width="0.5"/>
<path d="M484.6,258.5 q-1.7,-1.4 -2.7,0.6" fill="none" stroke="#999" stroke-width="0.5"/>
<path d="M481.9,249.9 q0.8,0.2 1.3,-0.1" fill="none" stroke="#999" stroke-width="0.5"/>
<path d="M468.4,265.6 q-1.9,-1.1 -3.1,0.4" fill="none" stroke="#999" stroke-width="0.5"/>
<path d="M471.9,249.5 q1.3,-0.8 2.1,0.3" fill="none" stroke="#999" stroke-width="0.5"/>
<path d="M464.4,250.0 q0.5,-0.2 0.8,0.1" fill="none" stroke="#999" stroke-width="0.5"/>
<path d="M476.1,262.8 q1.2,1.4 2.0,-0.6" fill="none" stroke="#999" stroke-width="0.5"/>
<path d="M477.4,253.2 q-0.1,-1.0 -0.2,0.4" fill="none" stroke="#999" stroke-width="0.5"/>
<path d="M461.3,258.9 q0.9,-1.0 1.4,0.4" fill="none" stroke="#999" stroke-width="0.5"/>
<path d="M467.5,256.3 q0.8,0.1 1.3,-0.0" fill="none" stroke="#999" stroke-width="0.5"/>
<path d="M475.7,264.9 q-0.4,0.9 -0.7,-0.4" fill="none" stroke="#999" stroke-width="0.5"/>
<path d="M482.7,250.8 q1.7,0.7 2.8,-0.3" fill="none" stroke="#999" stroke-width="0.5"/>
<path d="M464.1,258.5 q0.5,1.2 0.8,-0.5" fill="none" stroke="#999" stroke-width="0.5"/>
<circle cx="469.8" cy="260.9" r="0.45" fill="#aaa"/>
<circle cx="482.9" cy="265.7" r="0.45" fill="#aaa"/>
<circle cx="484.6" cy="258.7" r="0.45" fill="#aaa"/>
<circle cx="476.9" cy="253.3" r="0.45" fill="#aaa"/>
<circle cx="478.8" cy="266.2" r="0.45" fill="#aaa"/>
<circle cx="476.7" cy="264.1" r="0.45" fill="#aaa"/>
<circle cx="465.5" cy="267.9" r="0.45" fill="#aaa"/>
<circle cx="485.5" cy="269.5" r="0.45" fill="#aaa"/>
<circle cx="474.0" cy="265.6" r="0.45" fill="#aaa"/>
<circle cx="468.3" cy="268.1" r="0.45" fill="#aaa"/>
<circle cx="482.3" cy="256.3" r="0.45" fill="#aaa"/>
<circle cx="462.2" cy="258.3" r="0.45" fill="#aaa"/>
<circle cx="474.3" cy="265.1" r="0.45" fill="#aaa"/>
<circle cx="472.7" cy="249.6" r="0.45" fill="#aaa"/>
<circle cx="481.0" cy="250.3" r="0.45" fill="#aaa"/>
<circle cx="480.8" cy="252.6" r="0.45" fill="#aaa"/>
<circle cx="468.7" cy="265.5" r="0.45" fill="#aaa"/>
<circle cx="463.7" cy="252.1" r="0.45" fill="#aaa"/>
<circle cx="473.4" cy="264.2" r="0.45" fill="#aaa"/>
<circle cx="481.8" cy="263.5" r="0.45" fill="#aaa"/>
<circle cx="484.6" cy="259.3" r="0.45" fill="#aaa"/>
<circle cx="484.7" cy="250.8" r="0.45" fill="#aaa"/>
<circle cx="465.8" cy="260.1" r="0.45" fill="#aaa"/>
<circle cx="467.5" cy="264.3" r="0.45" fill="#aaa"/>
<circle cx="476.6" cy="260.0" r="0.45" fill="#aaa"/>
<circle cx="481.9" cy="260.8" r="0.45" fill="#aaa"/>
<circle cx="468.1" cy="257.0" r="0.45" fill="#aaa"/>
<circle cx="482.0" cy="267.9" r="0.45" fill="#aaa"/>
<circle cx="465.4" cy="266.9" r="0.45" fill="#aaa"/>
<circle cx="485.2" cy="260.0" r="0.45" fill="#aaa"/>
<circle cx="474.9" cy="253.2" r="0.45" fill="#aaa"/>
<circle cx="473.9" cy="259.6" r="0.45" fill="#aaa"/>
<circle cx="475.7" cy="249.6" r="0.45" fill="#aaa"/>
<circle cx="485.2" cy="259.8" r="0.45" fill="#aaa"/>
<circle cx="470.4" cy="265.8" r="0.45" fill="#aaa"/>
<circle cx="474.6" cy="259.3" r="0.45" fill="#aaa"/>
<circle cx="478.0" cy="250.4" r="0.45" fill="#aaa"/>
<circle cx="474.0" cy="257.7" r="0.45" fill="#aaa"/>
<circle cx="484.9" cy="268.4" r="0.45" fill="#aaa"/>
<circle cx="467.0" cy="258.9" r="0.45" fill="#aaa"/>
<circle cx="463.3" cy="258.1" r="0.45" fill="#aaa"/>
<circle cx="481.2" cy="267.9" r="0.45" fill="#aaa"/>
<circle cx="472.4" cy="255.7" r="0.45" fill="#aaa"/>
<circle cx="465.0" cy="262.0" r="0.45" fill="#aaa"/>
<circle cx="484.1" cy="251.7" r="0.45" fill="#aaa"/>
<circle cx="480.3" cy="249.5" r="0.45" fill="#aaa"/>
<circle cx="465.0" cy="253.8" r="0.45" fill="#aaa"/>
<circle cx="477.9" cy="255.8" r="0.45" fill="#aaa"/>
<circle cx="469.2" cy="262.0" r="0.45" fill="#aaa"/>
<circle cx="462.7" cy="264.3" r="0.45" fill="#aaa"/>
<circle cx="463.2" cy="259.7" r="0.45" fill="#aaa"/>
<circle cx="466.5" cy="253.2" r="0.45" fill="#aaa"/>
<circle cx="473.8" cy="258.2" r="0.45" fill="#aaa"/>
<circle cx="469.8" cy="257.7" r="0.45" fill="#aaa"/>
<circle cx="473.8" cy="252.4" r="0.45" fill="#aaa"/>
<circle cx="465.3" cy="262.3" r="0.45" fill="#aaa"/>
<circle cx="476.6" cy="260.1" r="0.45" fill="#aaa"/>
<circle cx="482.1" cy="261.8" r="0.45" fill="#aaa"/>
<circle cx="482.3" cy="253.9" r="0.45" fill="#aaa"/>
<circle cx="479.3" cy="266.0" r="0.45" fill="#aaa"/>
<ellipse cx="468" cy="252" rx="2" ry="1.1" fill="none" stroke="#a0a0a0" stroke-width="0.5"/>
<ellipse cx="472" cy="258" rx="1.8" ry="1" fill="none" stroke="#a0a0a0" stroke-width="0.5"/>
<ellipse cx="466" cy="262" rx="1.6" ry="1" fill="none" stroke="#a0a0a0" stroke-width="0.5"/>
<circle cx="465.8" cy="252.2" r="0.5" fill="#7a7a7a"/>
<path d="M467.9,251.8 l0.9,0.0" stroke="#7a7a7a" stroke-width="0.5"/>
<circle cx="471.1" cy="259.1" r="0.5" fill="#7a7a7a"/>
<circle cx="472.4" cy="260.7" r="0.5" fill="#7a7a7a"/>
<circle cx="476.2" cy="264.4" r="0.5" fill="#7a7a7a"/>
<path d="M478.8,269.1 l1.1,0.2" stroke="#7a7a7a" stroke-width="0.5"/>
<circle cx="463.5" cy="249.7" r="0.5" fill="#7a7a7a"/>
<circle cx="477.5" cy="268.7" r="0.5" fill="#7a7a7a"/>
<path d="M464.5,253.1 l-0.1,0.1" stroke="#7a7a7a" stroke-width="0.5"/>
<circle cx="468.9" cy="255.4" r="0.5" fill="#7a7a7a"/>
<circle cx="462.3" cy="256.4" r="0.5" fill="#7a7a7a"/>
<circle cx="475.3" cy="264.8" r="0.5" fill="#7a7a7a"/>
<path d="M477.4,269.5 l0.2,0.5" stroke="#7a7a7a" stroke-width="0.5"/>
<circle cx="465.8" cy="250.6" r="0.5" fill="#7a7a7a"/>
<path d="M475.8,266.0 l-0.3,-0.3" stroke="#7a7a7a" stroke-width="0.5"/>
<circle cx="466.8" cy="261.5" r="0.5" fill="#7a7a7a"/>
<circle cx="480.2" cy="267.6" r="0.5" fill="#7a7a7a"/>
<path d="M474.7,263.2 l-0.0,-0.0" stroke="#7a7a7a" stroke-width="0.5"/>
<path d="M471.9,259.9 l0.2,0.2" stroke="#7a7a7a" stroke-width="0.5"/>
<circle cx="466.4" cy="252.1" r="0.5" fill="#7a7a7a"/>
<path d="M467.0,257.6 l-0.6,-0.8" stroke="#7a7a7a" stroke-width="0.5"/>
<path d="M463.8,250.5 l0.8,-0.3" stroke="#7a7a7a" stroke-width="0.5"/>
<path d="M475.8,260.8 l-0.3,1.0" stroke="#7a7a7a" stroke-width="0.5"/>
<path d="M482.3,264.3 l1.1,-0.0" stroke="#7a7a7a" stroke-width="0.5"/>
<circle cx="468.7" cy="256.8" r="0.5" fill="#7a7a7a"/>
<path d="M460.1,254.4 l0.8,-0.0" stroke="#7a7a7a" stroke-width="0.5"/>
<circle cx="475.9" cy="266.2" r="0.5" fill="#7a7a7a"/>
<circle cx="469.2" cy="257.9" r="0.5" fill="#7a7a7a"/>
<path d="M465.0,249.5 l0.7,-0.0" stroke="#7a7a7a" stroke-width="0.5"/>
<path d="M463.7,257.4 l0.1,0.5" stroke="#7a7a7a" stroke-width="0.5"/>
<path d="M461.8,251.2 l1.1,0.2" stroke="#7a7a7a" stroke-width="0.5"/>
<path d="M466.8,260.6 l1.0,-0.4" stroke="#7a7a7a" stroke-width="0.5"/>
<circle cx="472.1" cy="259.2" r="0.5" fill="#7a7a7a"/>
<path d="M471.7,265.0 l-1.4,0.2" stroke="#7a7a7a" stroke-width="0.5"/>
<circle cx="472.4" cy="262.8" r="0.5" fill="#7a7a7a"/>
<path d="M471.0,255.6 l1.2,-0.7" stroke="#7a7a7a" stroke-width="0.5"/>
<circle cx="463.4" cy="252.0" r="0.5" fill="#7a7a7a"/>
<path d="M464.3,252.7 l0.5,-0.7" stroke="#7a7a7a" stroke-width="0.5"/>
<circle cx="472.5" cy="258.9" r="0.5" fill="#7a7a7a"/>
<circle cx="463.4" cy="254.6" r="0.5" fill="#7a7a7a"/>
<circle cx="469.3" cy="256.3" r="0.5" fill="#7a7a7a"/>
<path d="M476.7,260.9 l0.8,0.6" stroke="#7a7a7a" stroke-width="0.5"/>
<path d="M462.7,249.6 l-1.0,0.4" stroke="#7a7a7a" stroke-width="0.5"/>
<path d="M466.4,254.7 l-0.6,-0.9" stroke="#7a7a7a" stroke-width="0.5"/>
<circle cx="470.2" cy="255.8" r="0.5" fill="#7a7a7a"/>
<path d="M401.7,261.4 l1.3,-0.8" stroke="#7e7e7e" stroke-width="0.5"/>
<path d="M408.3,257.7 l-0.6,0.4" stroke="#7e7e7e" stroke-width="0.5"/>
<path d="M405.0,258.8 l-1.3,0.6" stroke="#7e7e7e" stroke-width="0.5"/>
<path d="M412.4,264.9 l-1.2,-0.8" stroke="#7e7e7e" stroke-width="0.5"/>
<path d="M397.1,253.1 l0.8,-0.1" stroke="#7e7e7e" stroke-width="0.5"/>
<circle cx="404.3" cy="262.3" r="0.5" fill="#7e7e7e"/>
<circle cx="404.5" cy="259.0" r="0.5" fill="#7e7e7e"/>
<circle cx="403.0" cy="257.1" r="0.5" fill="#7e7e7e"/>
<path d="M400.3,255.1 l1.0,0.4" stroke="#7e7e7e" stroke-width="0.5"/>
<circle cx="403.7" cy="258.0" r="0.5" fill="#7e7e7e"/>
<path d="M405.1,261.9 l-1.2,-0.0" stroke="#7e7e7e" stroke-width="0.5"/>
<path d="M405.0,257.8 l0.4,0.5" stroke="#7e7e7e" stroke-width="0.5"/>
<path d="M409.9,258.1 l0.6,0.4" stroke="#7e7e7e" stroke-width="0.5"/>
<path d="M399.5,255.9 l1.0,0.9" stroke="#7e7e7e" stroke-width="0.5"/>
<circle cx="412.5" cy="265.1" r="0.5" fill="#7e7e7e"/>
<circle cx="402.2" cy="255.2" r="0.5" fill="#7e7e7e"/>
<circle cx="404.0" cy="260.6" r="0.5" fill="#7e7e7e"/>
<circle cx="399.4" cy="257.7" r="0.5" fill="#7e7e7e"/>
<path d="M399.4,251.8 l0.6,-0.6" stroke="#7e7e7e" stroke-width="0.5"/>
<circle cx="403.4" cy="254.7" r="0.5" fill="#7e7e7e"/>
<circle cx="412.9" cy="263.6" r="0.5" fill="#7e7e7e"/>
<path d="M400.4,255.3 l-0.9,0.2" stroke="#7e7e7e" stroke-width="0.5"/>
<circle cx="401.8" cy="254.5" r="0.5" fill="#7e7e7e"/>
<path d="M412.6,263.6 l-0.7,-0.7" stroke="#7e7e7e" stroke-width="0.5"/>
<circle cx="402.5" cy="257.1" r="0.5" fill="#7e7e7e"/>
<path d="M399.5,254.2 l1.3,0.4" stroke="#7e7e7e" stroke-width="0.5"/>
<path d="M397.4,251.2 l-1.4,0.2" stroke="#7e7e7e" stroke-width="0.5"/>
<path d="M407.5,261.5 l-1.2,-0.4" stroke="#7e7e7e" stroke-width="0.5"/>
<path d="M403.6,258.0 l-0.4,-0.7" stroke="#7e7e7e" stroke-width="0.5"/>
<circle cx="408.1" cy="263.6" r="0.5" fill="#7e7e7e"/>
<circle cx="391.2" cy="188.2" r="0.5" fill="#858585"/>
<path d="M401.7,181.7 l1.3,0.8" stroke="#858585" stroke-width="0.5"/>
<path d="M394.5,197.9 l-1.3,0.8" stroke="#858585" stroke-width="0.5"/>
<circle cx="405.0" cy="176.4" r="0.5" fill="#858585"/>
<path d="M404.8,173.4 l0.4,-0.1" stroke="#858585" stroke-width="0.5"/>
<circle cx="405.0" cy="174.2" r="0.5" fill="#858585"/>
<path d="M397.5,188.8 l1.2,-0.9" stroke="#858585" stroke-width="0.5"/>
<circle cx="387.8" cy="190.5" r="0.5" fill="#858585"/>
<circle cx="395.1" cy="188.0" r="0.5" fill="#858585"/>
<path d="M387.2,191.2 l-1.0,-0.8" stroke="#858585" stroke-width="0.5"/>
<path d="M408.7,171.8 l-0.3,0.4" stroke="#858585" stroke-width="0.5"/>
<path d="M403.6,176.1 l-0.9,-0.9" stroke="#858585" stroke-width="0.5"/>
<path d="M396.9,186.1 l0.4,-0.7" stroke="#858585" stroke-width="0.5"/>
<path d="M402.8,176.1 l0.9,0.8" stroke="#858585" stroke-width="0.5"/>
<circle cx="403.6" cy="178.1" r="0.5" fill="#858585"/>
<path d="M407.9,177.5 l1.4,-0.2" stroke="#858585" stroke-width="0.5"/>
<path d="M407.2,170.1 l0.9,-1.0" stroke="#858585" stroke-width="0.5"/>
<path d="M394.6,184.3 l0.4,-0.7" stroke="#858585" stroke-width="0.5"/>
<path d="M406.5,170.1 l1.1,-0.6" stroke="#858585" stroke-width="0.5"/>
<path d="M406.1,167.0 l1.1,-0.3" stroke="#858585" stroke-width="0.5"/>
<circle cx="390.3" cy="191.8" r="0.5" fill="#858585"/>
<circle cx="389.4" cy="187.2" r="0.5" fill="#858585"/>
<circle cx="391.6" cy="190.9" r="0.5" fill="#858585"/>
<path d="M398.0,184.0 l-0.9,-0.8" stroke="#858585" stroke-width="0.5"/>
<path d="M408.3,171.6 l1.2,0.0" stroke="#858585" stroke-width="0.5"/>
<path d="M392.6,192.1 l0.8,0.5" stroke="#858585" stroke-width="0.5"/>
<circle cx="405.5" cy="180.7" r="0.5" fill="#858585"/>
<circle cx="396.6" cy="182.7" r="0.5" fill="#858585"/>
<circle cx="402.6" cy="183.1" r="0.5" fill="#858585"/>
<path d="M392.1,195.2 l0.7,0.5" stroke="#858585" stroke-width="0.5"/>
<circle cx="478.8" cy="167.3" r="0.5" fill="#7a7a7a"/>
<path d="M470.6,189.9 l0.2,1.0" stroke="#7a7a7a" stroke-width="0.5"/>
<circle cx="462.0" cy="191.8" r="0.5" fill="#7a7a7a"/>
<circle cx="476.5" cy="178.2" r="0.5" fill="#7a7a7a"/>
<path d="M463.5,184.5 l-0.0,-0.1" stroke="#7a7a7a" stroke-width="0.5"/>
<path d="M464.3,184.3 l1.1,0.5" stroke="#7a7a7a" stroke-width="0.5"/>
<circle cx="463.9" cy="184.6" r="0.5" fill="#7a7a7a"/>
<circle cx="478.1" cy="177.3" r="0.5" fill="#7a7a7a"/>
<path d="M472.5,168.9 l-1.3,-0.4" stroke="#7a7a7a" stroke-width="0.5"/>
<circle cx="475.8" cy="182.6" r="0.5" fill="#7a7a7a"/>
<circle cx="477.9" cy="182.1" r="0.5" fill="#7a7a7a"/>
<path d="M463.3,191.9 l-0.8,0.4" stroke="#7a7a7a" stroke-width="0.5"/>
<path d="M468.3,190.6 l-0.4,-0.6" stroke="#7a7a7a" stroke-width="0.5"/>
<circle cx="464.2" cy="196.6" r="0.5" fill="#7a7a7a"/>
<path d="M461.5,195.0 l0.5,-1.0" stroke="#7a7a7a" stroke-width="0.5"/>
<path d="M472.8,175.3 l1.4,-0.3" stroke="#7a7a7a" stroke-width="0.5"/>
<path d="M471.3,178.4 l-0.4,-0.3" stroke="#7a7a7a" stroke-width="0.5"/>
<path d="M474.0,174.9 l-0.8,0.6" stroke="#7a7a7a" stroke-width="0.5"/>
<path d="M455.4,194.5 l-0.1,-0.6" stroke="#7a7a7a" stroke-width="0.5"/>
<circle cx="470.7" cy="180.3" r="0.5" fill="#7a7a7a"/>
<path d="M460.6,192.0 l-0.5,-0.3" stroke="#7a7a7a" stroke-width="0.5"/>
<circle cx="464.0" cy="192.6" r="0.5" fill="#7a7a7a"/>
<path d="M473.1,180.6 l-0.8,-0.8" stroke="#7a7a7a" stroke-width="0.5"/>
<path d="M472.3,184.4 l-0.9,0.4" stroke="#7a7a7a" stroke-width="0.5"/>
<circle cx="472.2" cy="184.1" r="0.5" fill="#7a7a7a"/>
<circle cx="462.1" cy="189.6" r="0.5" fill="#7a7a7a"/>
<path d="M470.7,180.8 l0.1,0.3" stroke="#7a7a7a" stroke-width="0.5"/>
<path d="M456.5,196.1 l-0.4,0.6" stroke="#7a7a7a" stroke-width="0.5"/>
<circle cx="460.0" cy="198.0" r="0.5" fill="#7a7a7a"/>
<circle cx="479.7" cy="173.3" r="0.5" fill="#7a7a7a"/>
<circle cx="476.8" cy="168.9" r="0.5" fill="#7a7a7a"/>
<path d="M481.8,171.6 l-1.0,-0.3" stroke="#7a7a7a" stroke-width="0.5"/>
<path d="M469.6,175.3 l-0.3,0.6" stroke="#7a7a7a" stroke-width="0.5"/>
<circle cx="458.1" cy="195.3" r="0.5" fill="#7a7a7a"/>
<path d="M477.9,176.6 l-1.1,-0.4" stroke="#7a7a7a" stroke-width="0.5"/>
<circle cx="458.3" cy="192.6" r="0.5" fill="#7a7a7a"/>
<path d="M464.0,184.7 l-0.2,0.4" stroke="#7a7a7a" stroke-width="0.5"/>
<circle cx="469.5" cy="177.1" r="0.5" fill="#7a7a7a"/>
<circle cx="462.5" cy="192.1" r="0.5" fill="#7a7a7a"/>
<path d="M463.8,188.0 l-0.2,-0.6" stroke="#7a7a7a" stroke-width="0.5"/>
<circle cx="459.2" cy="197.5" r="0.5" fill="#7a7a7a"/>
<circle cx="476.7" cy="171.7" r="0.5" fill="#7a7a7a"/>
<circle cx="476.5" cy="182.4" r="0.5" fill="#7a7a7a"/>
<circle cx="473.0" cy="174.8" r="0.5" fill="#7a7a7a"/>
<path d="M471.4,180.5 l0.6,-0.0" stroke="#7a7a7a" stroke-width="0.5"/>
<line x1="398.6" y1="158.2" x2="398.6" y2="202.8" stroke="#999" stroke-width="0.6" stroke-opacity="0.75"/>
<line x1="383.2" y1="182.1" x2="429" y2="182.1" stroke="#999" stroke-width="0.6" stroke-opacity="0.75"/>
<line x1="465.8" y1="159.1" x2="465.8" y2="203.5" stroke="#999" stroke-width="0.6" stroke-opacity="0.75"/>
<line x1="451.1" y1="183" x2="496.3" y2="183" stroke="#999" stroke-width="0.6" stroke-opacity="0.75"/>
<line x1="399.6" y1="226" x2="399.6" y2="273.6" stroke="#999" stroke-width="0.6" stroke-opacity="0.75"/>
<line x1="382.4" y1="254.7" x2="431" y2="254.7" stroke="#999" stroke-width="0.6" stroke-opacity="0.75"/>
<line x1="464.6" y1="227.2" x2="464.6" y2="273" stroke="#999" stroke-width="0.6" stroke-opacity="0.75"/>
<line x1="448" y1="255.3" x2="494.8" y2="255.3" stroke="#999" stroke-width="0.6" stroke-opacity="0.75"/>
<text x="384.5" y="166.8" font-size="7.2" textLength="16.5" lengthAdjust="spacingAndGlyphs" stroke="#111" stroke-width="0.12">1.03%</text>
<text x="411.8" y="166.8" font-size="7.2" textLength="16.0" lengthAdjust="spacingAndGlyphs" stroke="#111" stroke-width="0.12">2.29%</text>
<text x="386.4" y="201.4" font-size="7.2" textLength="17.7" lengthAdjust="spacingAndGlyphs" stroke="#111" stroke-width="0.12">94.2%</text>
<text x="412.5" y="201.4" font-size="7.2" textLength="15.5" lengthAdjust="spacingAndGlyphs" stroke="#111" stroke-width="0.12">2.51%</text>
<text x="451.8" y="165.8" font-size="7.2" textLength="15.5" lengthAdjust="spacingAndGlyphs" stroke="#111" stroke-width="0.12">1.19%</text>
<text x="475.7" y="165.8" font-size="7.2" textLength="17.2" lengthAdjust="spacingAndGlyphs" stroke="#111" stroke-width="0.12">2.42%</text>
<text x="451.8" y="201.4" font-size="7.2" textLength="17.4" lengthAdjust="spacingAndGlyphs" stroke="#111" stroke-width="0.12">92.0%</text>
<text x="479.8" y="201.4" font-size="7.2" textLength="15.0" lengthAdjust="spacingAndGlyphs" stroke="#111" stroke-width="0.12">4.43%</text>
<text x="384" y="234" font-size="7.2" textLength="16.4" lengthAdjust="spacingAndGlyphs" stroke="#111" stroke-width="0.12">54.7%</text>
<text x="412" y="234" font-size="7.2" textLength="16" lengthAdjust="spacingAndGlyphs" stroke="#111" stroke-width="0.12">29.3%</text>
<text x="387" y="271" font-size="7.2" textLength="8.6" lengthAdjust="spacingAndGlyphs" stroke="#111" stroke-width="0.12">15%</text>
<text x="413.6" y="271" font-size="7.2" textLength="15.4" lengthAdjust="spacingAndGlyphs" stroke="#111" stroke-width="0.12">1.01%</text>
<text x="451" y="235.6" font-size="7.2" textLength="17" lengthAdjust="spacingAndGlyphs" stroke="#111" stroke-width="0.12">44.7%</text>
<text x="478" y="235.6" font-size="7.2" textLength="16.4" lengthAdjust="spacingAndGlyphs" stroke="#111" stroke-width="0.12">25.3%</text>
<text x="449" y="270" font-size="7.2" textLength="19" lengthAdjust="spacingAndGlyphs" stroke="#111" stroke-width="0.12">27.8%</text>
<text x="480.4" y="270" font-size="7.2" textLength="14.2" lengthAdjust="spacingAndGlyphs" stroke="#111" stroke-width="0.12">2.27%</text>
</svg></body></html>
